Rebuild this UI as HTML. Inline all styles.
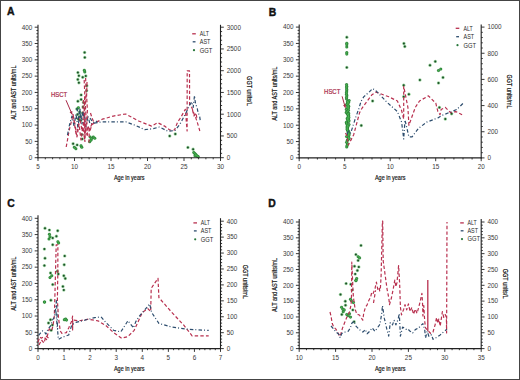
<!DOCTYPE html>
<html><head><meta charset="utf-8"><style>
html,body{margin:0;padding:0;background:#fff;}
svg{display:block;}
text{font-family:"Liberation Sans", sans-serif;}
.tk{font-size:6.35px;fill:#3a3a3a;}
.ttl{font-size:7.3px;fill:#111;font-weight:normal;stroke:#111;stroke-width:0.18px;}
.let{font-size:10.4px;font-weight:bold;fill:#111;stroke:#111;stroke-width:0.4px;}
.leg{font-size:6.6px;fill:#2a2a2a;}
.hs{font-size:6.4px;fill:#a82a48;stroke:#a82a48;stroke-width:0.2px;}
</style></head><body>
<svg width="520" height="380" viewBox="0 0 520 380">
<rect x="0" y="0" width="520" height="380" fill="#fff"/>
<g fill="#46b04e" fill-opacity="0.55"><circle cx="84.6" cy="52.4" r="1.7"/><circle cx="84.8" cy="57.4" r="1.7"/><circle cx="84.3" cy="70.3" r="1.7"/><circle cx="84.8" cy="72" r="1.7"/><circle cx="77.9" cy="72.6" r="1.7"/><circle cx="78.9" cy="75.8" r="1.7"/><circle cx="82.7" cy="77.3" r="1.7"/><circle cx="85.8" cy="76" r="1.7"/><circle cx="77.8" cy="79.4" r="1.7"/><circle cx="78.9" cy="82.7" r="1.7"/><circle cx="86.8" cy="85.7" r="1.7"/><circle cx="86.6" cy="90.7" r="1.7"/><circle cx="81.1" cy="94.9" r="1.7"/><circle cx="81.1" cy="99.4" r="1.7"/><circle cx="77.9" cy="101.2" r="1.7"/><circle cx="83.5" cy="102.4" r="1.7"/><circle cx="78.4" cy="107.7" r="1.7"/><circle cx="77" cy="109" r="1.7"/><circle cx="79.5" cy="112" r="1.7"/><circle cx="77.5" cy="114.5" r="1.7"/><circle cx="80.2" cy="116.5" r="1.7"/><circle cx="78.2" cy="119" r="1.7"/><circle cx="80.8" cy="120.5" r="1.7"/><circle cx="83" cy="107" r="1.7"/><circle cx="82.5" cy="113" r="1.7"/><circle cx="81.8" cy="134.6" r="1.7"/><circle cx="82.2" cy="139" r="1.7"/><circle cx="90.1" cy="137" r="1.7"/><circle cx="91.7" cy="138.6" r="1.7"/><circle cx="93.3" cy="137" r="1.7"/><circle cx="94.8" cy="138.2" r="1.7"/><circle cx="89.7" cy="141.7" r="1.7"/><circle cx="90.9" cy="140.2" r="1.7"/><circle cx="73.1" cy="143.7" r="1.7"/><circle cx="74.3" cy="147.3" r="1.7"/><circle cx="75.9" cy="148.8" r="1.7"/><circle cx="77.1" cy="144.9" r="1.7"/><circle cx="81" cy="145.7" r="1.7"/><circle cx="81.8" cy="147.3" r="1.7"/><circle cx="169.7" cy="136" r="1.7"/><circle cx="175.3" cy="134" r="1.7"/><circle cx="187.9" cy="147.4" r="1.7"/><circle cx="193.1" cy="149.3" r="1.7"/><circle cx="193.8" cy="152.5" r="1.7"/><circle cx="194.8" cy="153.5" r="1.7"/><circle cx="195.8" cy="154.5" r="1.7"/><circle cx="196.5" cy="155.5" r="1.7"/><circle cx="197.5" cy="156.2" r="1.7"/><circle cx="195" cy="155.8" r="1.7"/><circle cx="198.2" cy="156.8" r="1.7"/><circle cx="346.8" cy="37.3" r="1.7"/><circle cx="346.8" cy="43.2" r="1.7"/><circle cx="346.8" cy="44.8" r="1.7"/><circle cx="346.8" cy="47" r="1.7"/><circle cx="346.8" cy="52.6" r="1.7"/><circle cx="346.8" cy="54.1" r="1.7"/><circle cx="346.8" cy="67.4" r="1.7"/><circle cx="346.57" cy="84.6" r="1.7"/><circle cx="346.72" cy="86.2" r="1.7"/><circle cx="346.63" cy="87.8" r="1.7"/><circle cx="346.75" cy="89.4" r="1.7"/><circle cx="346.76" cy="91" r="1.7"/><circle cx="346.48" cy="92.6" r="1.7"/><circle cx="346.46" cy="94.2" r="1.7"/><circle cx="346.87" cy="95.8" r="1.7"/><circle cx="346.58" cy="97.4" r="1.7"/><circle cx="346.57" cy="99" r="1.7"/><circle cx="349.09" cy="100.6" r="1.7"/><circle cx="347.51" cy="101.4" r="1.7"/><circle cx="348.61" cy="102.2" r="1.7"/><circle cx="347.53" cy="103" r="1.7"/><circle cx="348.02" cy="103.8" r="1.7"/><circle cx="346.55" cy="104.6" r="1.7"/><circle cx="348" cy="105.4" r="1.7"/><circle cx="348.7" cy="106.2" r="1.7"/><circle cx="347.67" cy="107" r="1.7"/><circle cx="348.32" cy="107.8" r="1.7"/><circle cx="348.11" cy="108.6" r="1.7"/><circle cx="346.29" cy="109.4" r="1.7"/><circle cx="348.37" cy="110.2" r="1.7"/><circle cx="347.87" cy="111" r="1.7"/><circle cx="347" cy="111.8" r="1.7"/><circle cx="346.19" cy="112.6" r="1.7"/><circle cx="348.7" cy="113.4" r="1.7"/><circle cx="347.52" cy="114.2" r="1.7"/><circle cx="348.26" cy="115" r="1.7"/><circle cx="348.74" cy="115.8" r="1.7"/><circle cx="348.24" cy="116.6" r="1.7"/><circle cx="348.86" cy="117.4" r="1.7"/><circle cx="347.28" cy="118.2" r="1.7"/><circle cx="348.5" cy="119" r="1.7"/><circle cx="347.43" cy="119.8" r="1.7"/><circle cx="348.91" cy="120.6" r="1.7"/><circle cx="348.74" cy="121.4" r="1.7"/><circle cx="346.39" cy="122.2" r="1.7"/><circle cx="346.51" cy="123" r="1.7"/><circle cx="346.75" cy="123.8" r="1.7"/><circle cx="349" cy="124.6" r="1.7"/><circle cx="347.41" cy="125.4" r="1.7"/><circle cx="347.98" cy="126.2" r="1.7"/><circle cx="347" cy="127" r="1.7"/><circle cx="347.62" cy="127.8" r="1.7"/><circle cx="347.26" cy="128.6" r="1.7"/><circle cx="347.15" cy="129.4" r="1.7"/><circle cx="347.86" cy="130.2" r="1.7"/><circle cx="347.85" cy="131" r="1.7"/><circle cx="348.81" cy="131.8" r="1.7"/><circle cx="348.15" cy="132.6" r="1.7"/><circle cx="348.89" cy="133.4" r="1.7"/><circle cx="348.67" cy="134.2" r="1.7"/><circle cx="349.07" cy="135" r="1.7"/><circle cx="348.11" cy="135.8" r="1.7"/><circle cx="346.59" cy="136.6" r="1.7"/><circle cx="348.68" cy="137.4" r="1.7"/><circle cx="348.99" cy="138.2" r="1.7"/><circle cx="348.81" cy="139" r="1.7"/><circle cx="347.81" cy="139.8" r="1.7"/><circle cx="347.26" cy="140.6" r="1.7"/><circle cx="346.65" cy="142.2" r="1.7"/><circle cx="347.4" cy="143.8" r="1.7"/><circle cx="347.09" cy="145.4" r="1.7"/><circle cx="346.74" cy="147" r="1.7"/><circle cx="361.3" cy="125.5" r="1.7"/><circle cx="372.6" cy="101" r="1.7"/><circle cx="403.9" cy="43.4" r="1.7"/><circle cx="404.8" cy="46.5" r="1.7"/><circle cx="403.7" cy="85.3" r="1.7"/><circle cx="403.7" cy="96.8" r="1.7"/><circle cx="408.9" cy="94.3" r="1.7"/><circle cx="419.9" cy="80" r="1.7"/><circle cx="430" cy="65.3" r="1.7"/><circle cx="435.3" cy="61.4" r="1.7"/><circle cx="440.8" cy="69.1" r="1.7"/><circle cx="438.5" cy="70.5" r="1.7"/><circle cx="443" cy="77.5" r="1.7"/><circle cx="438.5" cy="83" r="1.7"/><circle cx="439.4" cy="107.4" r="1.7"/><circle cx="445.3" cy="119" r="1.7"/><circle cx="451.6" cy="113.7" r="1.7"/><circle cx="45" cy="228.3" r="1.7"/><circle cx="49.4" cy="230.1" r="1.7"/><circle cx="57.7" cy="230.7" r="1.7"/><circle cx="49.4" cy="234.3" r="1.7"/><circle cx="50" cy="236.7" r="1.7"/><circle cx="49" cy="239" r="1.7"/><circle cx="52.7" cy="238" r="1.7"/><circle cx="56.4" cy="236.2" r="1.7"/><circle cx="57.9" cy="241.7" r="1.7"/><circle cx="58.6" cy="243" r="1.7"/><circle cx="52.7" cy="244.8" r="1.7"/><circle cx="44.4" cy="249.1" r="1.7"/><circle cx="45" cy="258.3" r="1.7"/><circle cx="44.4" cy="265.6" r="1.7"/><circle cx="64.7" cy="255.9" r="1.7"/><circle cx="64.2" cy="264.7" r="1.7"/><circle cx="50.5" cy="273" r="1.7"/><circle cx="51.8" cy="275.8" r="1.7"/><circle cx="50" cy="277.6" r="1.7"/><circle cx="57.3" cy="271.2" r="1.7"/><circle cx="58.3" cy="274" r="1.7"/><circle cx="63.8" cy="275.8" r="1.7"/><circle cx="65.3" cy="278.5" r="1.7"/><circle cx="52.7" cy="284.6" r="1.7"/><circle cx="62.9" cy="286.4" r="1.7"/><circle cx="63.8" cy="290.1" r="1.7"/><circle cx="44.4" cy="302.1" r="1.7"/><circle cx="50.9" cy="300.3" r="1.7"/><circle cx="44.6" cy="302" r="1.7"/><circle cx="64.3" cy="319.7" r="1.7"/><circle cx="65.6" cy="319" r="1.7"/><circle cx="66.5" cy="320.1" r="1.7"/><circle cx="50.5" cy="319.7" r="1.7"/><circle cx="48.5" cy="323" r="1.7"/><circle cx="52.4" cy="325" r="1.7"/><circle cx="51.1" cy="330.3" r="1.7"/><circle cx="361" cy="245.4" r="1.7"/><circle cx="355.9" cy="254.6" r="1.7"/><circle cx="358.1" cy="256.7" r="1.7"/><circle cx="359.6" cy="257.9" r="1.7"/><circle cx="358.1" cy="260.4" r="1.7"/><circle cx="358.8" cy="266.9" r="1.7"/><circle cx="354.5" cy="266.2" r="1.7"/><circle cx="357.4" cy="270.5" r="1.7"/><circle cx="355.2" cy="274.1" r="1.7"/><circle cx="356.7" cy="278.5" r="1.7"/><circle cx="355.9" cy="280.7" r="1.7"/><circle cx="346.1" cy="283.6" r="1.7"/><circle cx="356" cy="280.3" r="1.7"/><circle cx="350.8" cy="284.2" r="1.7"/><circle cx="352.1" cy="290.1" r="1.7"/><circle cx="340.5" cy="294.5" r="1.7"/><circle cx="350.5" cy="299.3" r="1.7"/><circle cx="351.4" cy="300.7" r="1.7"/><circle cx="353.4" cy="302.6" r="1.7"/><circle cx="345.3" cy="301.3" r="1.7"/><circle cx="345.5" cy="305.3" r="1.7"/><circle cx="341.6" cy="307.2" r="1.7"/><circle cx="342.9" cy="309.2" r="1.7"/><circle cx="344.2" cy="309.9" r="1.7"/><circle cx="343.2" cy="311.8" r="1.7"/><circle cx="341.8" cy="314.5" r="1.7"/><circle cx="346.8" cy="314.5" r="1.7"/><circle cx="348.2" cy="315.8" r="1.7"/><circle cx="349.5" cy="313.8" r="1.7"/><circle cx="350.5" cy="317.1" r="1.7"/><circle cx="352.8" cy="309.9" r="1.7"/><circle cx="354.1" cy="321.7" r="1.7"/></g>
<g fill="#1d4d28"><circle cx="84.6" cy="52.4" r="1.0"/>
<circle cx="84.8" cy="57.4" r="1.0"/>
<circle cx="77.9" cy="72.6" r="1.0"/>
<circle cx="78.9" cy="75.8" r="1.0"/>
<circle cx="82.7" cy="77.3" r="1.0"/>
<circle cx="85.8" cy="76" r="1.0"/>
<circle cx="77.8" cy="79.4" r="1.0"/>
<circle cx="78.9" cy="82.7" r="1.0"/>
<circle cx="86.8" cy="85.7" r="1.0"/>
<circle cx="86.6" cy="90.7" r="1.0"/>
<circle cx="81.1" cy="94.9" r="1.0"/>
<circle cx="81.1" cy="99.4" r="1.0"/>
<circle cx="77.9" cy="101.2" r="1.0"/>
<circle cx="83.5" cy="102.4" r="1.0"/>
<circle cx="79.5" cy="112" r="1.0"/>
<circle cx="77.5" cy="114.5" r="1.0"/>
<circle cx="80.2" cy="116.5" r="1.0"/>
<circle cx="78.2" cy="119" r="1.0"/>
<circle cx="80.8" cy="120.5" r="1.0"/>
<circle cx="83" cy="107" r="1.0"/>
<circle cx="82.5" cy="113" r="1.0"/>
<circle cx="81.8" cy="134.6" r="1.0"/>
<circle cx="82.2" cy="139" r="1.0"/>
<circle cx="73.1" cy="143.7" r="1.0"/>
<circle cx="77.1" cy="144.9" r="1.0"/>
<circle cx="169.7" cy="136" r="1.0"/>
<circle cx="175.3" cy="134" r="1.0"/>
<circle cx="187.9" cy="147.4" r="1.0"/>
<circle cx="193.1" cy="149.3" r="1.0"/>
<circle cx="346.8" cy="37.3" r="1.0"/>
<circle cx="346.8" cy="67.4" r="1.0"/>
<circle cx="361.3" cy="125.5" r="1.0"/>
<circle cx="372.6" cy="101" r="1.0"/>
<circle cx="403.9" cy="43.4" r="1.0"/>
<circle cx="404.8" cy="46.5" r="1.0"/>
<circle cx="403.7" cy="85.3" r="1.0"/>
<circle cx="403.7" cy="96.8" r="1.0"/>
<circle cx="408.9" cy="94.3" r="1.0"/>
<circle cx="419.9" cy="80" r="1.0"/>
<circle cx="430" cy="65.3" r="1.0"/>
<circle cx="435.3" cy="61.4" r="1.0"/>
<circle cx="443" cy="77.5" r="1.0"/>
<circle cx="438.5" cy="83" r="1.0"/>
<circle cx="439.4" cy="107.4" r="1.0"/>
<circle cx="445.3" cy="119" r="1.0"/>
<circle cx="451.6" cy="113.7" r="1.0"/>
<circle cx="45" cy="228.3" r="1.0"/>
<circle cx="49.4" cy="230.1" r="1.0"/>
<circle cx="57.7" cy="230.7" r="1.0"/>
<circle cx="52.7" cy="238" r="1.0"/>
<circle cx="56.4" cy="236.2" r="1.0"/>
<circle cx="52.7" cy="244.8" r="1.0"/>
<circle cx="44.4" cy="249.1" r="1.0"/>
<circle cx="45" cy="258.3" r="1.0"/>
<circle cx="44.4" cy="265.6" r="1.0"/>
<circle cx="64.7" cy="255.9" r="1.0"/>
<circle cx="64.2" cy="264.7" r="1.0"/>
<circle cx="50.5" cy="273" r="1.0"/>
<circle cx="57.3" cy="271.2" r="1.0"/>
<circle cx="58.3" cy="274" r="1.0"/>
<circle cx="63.8" cy="275.8" r="1.0"/>
<circle cx="65.3" cy="278.5" r="1.0"/>
<circle cx="52.7" cy="284.6" r="1.0"/>
<circle cx="62.9" cy="286.4" r="1.0"/>
<circle cx="63.8" cy="290.1" r="1.0"/>
<circle cx="50.9" cy="300.3" r="1.0"/>
<circle cx="50.5" cy="319.7" r="1.0"/>
<circle cx="48.5" cy="323" r="1.0"/>
<circle cx="52.4" cy="325" r="1.0"/>
<circle cx="51.1" cy="330.3" r="1.0"/>
<circle cx="361" cy="245.4" r="1.0"/>
<circle cx="355.9" cy="254.6" r="1.0"/>
<circle cx="358.1" cy="260.4" r="1.0"/>
<circle cx="358.8" cy="266.9" r="1.0"/>
<circle cx="354.5" cy="266.2" r="1.0"/>
<circle cx="357.4" cy="270.5" r="1.0"/>
<circle cx="355.2" cy="274.1" r="1.0"/>
<circle cx="346.1" cy="283.6" r="1.0"/>
<circle cx="350.8" cy="284.2" r="1.0"/>
<circle cx="352.1" cy="290.1" r="1.0"/>
<circle cx="340.5" cy="294.5" r="1.0"/>
<circle cx="345.3" cy="301.3" r="1.0"/>
<circle cx="345.5" cy="305.3" r="1.0"/>
<circle cx="341.8" cy="314.5" r="1.0"/>
<circle cx="352.8" cy="309.9" r="1.0"/>
<circle cx="354.1" cy="321.7" r="1.0"/></g>
<g fill="#236b30"><circle cx="84.3" cy="70.3" r="1.3"/>
<circle cx="84.8" cy="72" r="1.3"/>
<circle cx="78.4" cy="107.7" r="1.3"/>
<circle cx="77" cy="109" r="1.3"/>
<circle cx="90.1" cy="137" r="1.3"/>
<circle cx="91.7" cy="138.6" r="1.3"/>
<circle cx="93.3" cy="137" r="1.3"/>
<circle cx="94.8" cy="138.2" r="1.3"/>
<circle cx="89.7" cy="141.7" r="1.3"/>
<circle cx="90.9" cy="140.2" r="1.3"/>
<circle cx="74.3" cy="147.3" r="1.3"/>
<circle cx="75.9" cy="148.8" r="1.3"/>
<circle cx="81" cy="145.7" r="1.3"/>
<circle cx="81.8" cy="147.3" r="1.3"/>
<circle cx="193.8" cy="152.5" r="1.3"/>
<circle cx="194.8" cy="153.5" r="1.3"/>
<circle cx="195.8" cy="154.5" r="1.3"/>
<circle cx="196.5" cy="155.5" r="1.3"/>
<circle cx="197.5" cy="156.2" r="1.3"/>
<circle cx="195" cy="155.8" r="1.3"/>
<circle cx="198.2" cy="156.8" r="1.3"/>
<circle cx="346.8" cy="43.2" r="1.3"/>
<circle cx="346.8" cy="44.8" r="1.3"/>
<circle cx="346.8" cy="47" r="1.3"/>
<circle cx="346.8" cy="52.6" r="1.3"/>
<circle cx="346.8" cy="54.1" r="1.3"/>
<circle cx="346.57" cy="84.6" r="1.3"/>
<circle cx="346.72" cy="86.2" r="1.3"/>
<circle cx="346.63" cy="87.8" r="1.3"/>
<circle cx="346.75" cy="89.4" r="1.3"/>
<circle cx="346.76" cy="91" r="1.3"/>
<circle cx="346.48" cy="92.6" r="1.3"/>
<circle cx="346.46" cy="94.2" r="1.3"/>
<circle cx="346.87" cy="95.8" r="1.3"/>
<circle cx="346.58" cy="97.4" r="1.3"/>
<circle cx="346.57" cy="99" r="1.3"/>
<circle cx="349.09" cy="100.6" r="1.3"/>
<circle cx="347.51" cy="101.4" r="1.3"/>
<circle cx="348.61" cy="102.2" r="1.3"/>
<circle cx="347.53" cy="103" r="1.3"/>
<circle cx="348.02" cy="103.8" r="1.3"/>
<circle cx="346.55" cy="104.6" r="1.3"/>
<circle cx="348" cy="105.4" r="1.3"/>
<circle cx="348.7" cy="106.2" r="1.3"/>
<circle cx="347.67" cy="107" r="1.3"/>
<circle cx="348.32" cy="107.8" r="1.3"/>
<circle cx="348.11" cy="108.6" r="1.3"/>
<circle cx="346.29" cy="109.4" r="1.3"/>
<circle cx="348.37" cy="110.2" r="1.3"/>
<circle cx="347.87" cy="111" r="1.3"/>
<circle cx="347" cy="111.8" r="1.3"/>
<circle cx="346.19" cy="112.6" r="1.3"/>
<circle cx="348.7" cy="113.4" r="1.3"/>
<circle cx="347.52" cy="114.2" r="1.3"/>
<circle cx="348.26" cy="115" r="1.3"/>
<circle cx="348.74" cy="115.8" r="1.3"/>
<circle cx="348.24" cy="116.6" r="1.3"/>
<circle cx="348.86" cy="117.4" r="1.3"/>
<circle cx="347.28" cy="118.2" r="1.3"/>
<circle cx="348.5" cy="119" r="1.3"/>
<circle cx="347.43" cy="119.8" r="1.3"/>
<circle cx="348.91" cy="120.6" r="1.3"/>
<circle cx="348.74" cy="121.4" r="1.3"/>
<circle cx="346.39" cy="122.2" r="1.3"/>
<circle cx="346.51" cy="123" r="1.3"/>
<circle cx="346.75" cy="123.8" r="1.3"/>
<circle cx="349" cy="124.6" r="1.3"/>
<circle cx="347.41" cy="125.4" r="1.3"/>
<circle cx="347.98" cy="126.2" r="1.3"/>
<circle cx="347" cy="127" r="1.3"/>
<circle cx="347.62" cy="127.8" r="1.3"/>
<circle cx="347.26" cy="128.6" r="1.3"/>
<circle cx="347.15" cy="129.4" r="1.3"/>
<circle cx="347.86" cy="130.2" r="1.3"/>
<circle cx="347.85" cy="131" r="1.3"/>
<circle cx="348.81" cy="131.8" r="1.3"/>
<circle cx="348.15" cy="132.6" r="1.3"/>
<circle cx="348.89" cy="133.4" r="1.3"/>
<circle cx="348.67" cy="134.2" r="1.3"/>
<circle cx="349.07" cy="135" r="1.3"/>
<circle cx="348.11" cy="135.8" r="1.3"/>
<circle cx="346.59" cy="136.6" r="1.3"/>
<circle cx="348.68" cy="137.4" r="1.3"/>
<circle cx="348.99" cy="138.2" r="1.3"/>
<circle cx="348.81" cy="139" r="1.3"/>
<circle cx="347.81" cy="139.8" r="1.3"/>
<circle cx="347.26" cy="140.6" r="1.3"/>
<circle cx="346.65" cy="142.2" r="1.3"/>
<circle cx="347.4" cy="143.8" r="1.3"/>
<circle cx="347.09" cy="145.4" r="1.3"/>
<circle cx="346.74" cy="147" r="1.3"/>
<circle cx="440.8" cy="69.1" r="1.3"/>
<circle cx="438.5" cy="70.5" r="1.3"/>
<circle cx="49.4" cy="234.3" r="1.3"/>
<circle cx="50" cy="236.7" r="1.3"/>
<circle cx="49" cy="239" r="1.3"/>
<circle cx="57.9" cy="241.7" r="1.3"/>
<circle cx="58.6" cy="243" r="1.3"/>
<circle cx="51.8" cy="275.8" r="1.3"/>
<circle cx="50" cy="277.6" r="1.3"/>
<circle cx="44.4" cy="302.1" r="1.3"/>
<circle cx="44.6" cy="302" r="1.3"/>
<circle cx="64.3" cy="319.7" r="1.3"/>
<circle cx="65.6" cy="319" r="1.3"/>
<circle cx="66.5" cy="320.1" r="1.3"/>
<circle cx="358.1" cy="256.7" r="1.3"/>
<circle cx="359.6" cy="257.9" r="1.3"/>
<circle cx="356.7" cy="278.5" r="1.3"/>
<circle cx="355.9" cy="280.7" r="1.3"/>
<circle cx="356" cy="280.3" r="1.3"/>
<circle cx="350.5" cy="299.3" r="1.3"/>
<circle cx="351.4" cy="300.7" r="1.3"/>
<circle cx="353.4" cy="302.6" r="1.3"/>
<circle cx="341.6" cy="307.2" r="1.3"/>
<circle cx="342.9" cy="309.2" r="1.3"/>
<circle cx="344.2" cy="309.9" r="1.3"/>
<circle cx="343.2" cy="311.8" r="1.3"/>
<circle cx="346.8" cy="314.5" r="1.3"/>
<circle cx="348.2" cy="315.8" r="1.3"/>
<circle cx="349.5" cy="313.8" r="1.3"/>
<circle cx="350.5" cy="317.1" r="1.3"/></g>
<g fill="#45b34d"><circle cx="84.3" cy="70.3" r="0.85"/>
<circle cx="84.8" cy="72" r="0.85"/>
<circle cx="78.4" cy="107.7" r="0.85"/>
<circle cx="77" cy="109" r="0.85"/>
<circle cx="90.1" cy="137" r="0.85"/>
<circle cx="91.7" cy="138.6" r="0.85"/>
<circle cx="93.3" cy="137" r="0.85"/>
<circle cx="94.8" cy="138.2" r="0.85"/>
<circle cx="89.7" cy="141.7" r="0.85"/>
<circle cx="90.9" cy="140.2" r="0.85"/>
<circle cx="74.3" cy="147.3" r="0.85"/>
<circle cx="75.9" cy="148.8" r="0.85"/>
<circle cx="81" cy="145.7" r="0.85"/>
<circle cx="81.8" cy="147.3" r="0.85"/>
<circle cx="193.8" cy="152.5" r="0.85"/>
<circle cx="194.8" cy="153.5" r="0.85"/>
<circle cx="195.8" cy="154.5" r="0.85"/>
<circle cx="196.5" cy="155.5" r="0.85"/>
<circle cx="197.5" cy="156.2" r="0.85"/>
<circle cx="195" cy="155.8" r="0.85"/>
<circle cx="198.2" cy="156.8" r="0.85"/>
<circle cx="346.8" cy="43.2" r="0.85"/>
<circle cx="346.8" cy="44.8" r="0.85"/>
<circle cx="346.8" cy="47" r="0.85"/>
<circle cx="346.8" cy="52.6" r="0.85"/>
<circle cx="346.8" cy="54.1" r="0.85"/>
<circle cx="346.57" cy="84.6" r="0.85"/>
<circle cx="346.72" cy="86.2" r="0.85"/>
<circle cx="346.63" cy="87.8" r="0.85"/>
<circle cx="346.75" cy="89.4" r="0.85"/>
<circle cx="346.76" cy="91" r="0.85"/>
<circle cx="346.48" cy="92.6" r="0.85"/>
<circle cx="346.46" cy="94.2" r="0.85"/>
<circle cx="346.87" cy="95.8" r="0.85"/>
<circle cx="346.58" cy="97.4" r="0.85"/>
<circle cx="346.57" cy="99" r="0.85"/>
<circle cx="349.09" cy="100.6" r="0.85"/>
<circle cx="347.51" cy="101.4" r="0.85"/>
<circle cx="348.61" cy="102.2" r="0.85"/>
<circle cx="347.53" cy="103" r="0.85"/>
<circle cx="348.02" cy="103.8" r="0.85"/>
<circle cx="346.55" cy="104.6" r="0.85"/>
<circle cx="348" cy="105.4" r="0.85"/>
<circle cx="348.7" cy="106.2" r="0.85"/>
<circle cx="347.67" cy="107" r="0.85"/>
<circle cx="348.32" cy="107.8" r="0.85"/>
<circle cx="348.11" cy="108.6" r="0.85"/>
<circle cx="346.29" cy="109.4" r="0.85"/>
<circle cx="348.37" cy="110.2" r="0.85"/>
<circle cx="347.87" cy="111" r="0.85"/>
<circle cx="347" cy="111.8" r="0.85"/>
<circle cx="346.19" cy="112.6" r="0.85"/>
<circle cx="348.7" cy="113.4" r="0.85"/>
<circle cx="347.52" cy="114.2" r="0.85"/>
<circle cx="348.26" cy="115" r="0.85"/>
<circle cx="348.74" cy="115.8" r="0.85"/>
<circle cx="348.24" cy="116.6" r="0.85"/>
<circle cx="348.86" cy="117.4" r="0.85"/>
<circle cx="347.28" cy="118.2" r="0.85"/>
<circle cx="348.5" cy="119" r="0.85"/>
<circle cx="347.43" cy="119.8" r="0.85"/>
<circle cx="348.91" cy="120.6" r="0.85"/>
<circle cx="348.74" cy="121.4" r="0.85"/>
<circle cx="346.39" cy="122.2" r="0.85"/>
<circle cx="346.51" cy="123" r="0.85"/>
<circle cx="346.75" cy="123.8" r="0.85"/>
<circle cx="349" cy="124.6" r="0.85"/>
<circle cx="347.41" cy="125.4" r="0.85"/>
<circle cx="347.98" cy="126.2" r="0.85"/>
<circle cx="347" cy="127" r="0.85"/>
<circle cx="347.62" cy="127.8" r="0.85"/>
<circle cx="347.26" cy="128.6" r="0.85"/>
<circle cx="347.15" cy="129.4" r="0.85"/>
<circle cx="347.86" cy="130.2" r="0.85"/>
<circle cx="347.85" cy="131" r="0.85"/>
<circle cx="348.81" cy="131.8" r="0.85"/>
<circle cx="348.15" cy="132.6" r="0.85"/>
<circle cx="348.89" cy="133.4" r="0.85"/>
<circle cx="348.67" cy="134.2" r="0.85"/>
<circle cx="349.07" cy="135" r="0.85"/>
<circle cx="348.11" cy="135.8" r="0.85"/>
<circle cx="346.59" cy="136.6" r="0.85"/>
<circle cx="348.68" cy="137.4" r="0.85"/>
<circle cx="348.99" cy="138.2" r="0.85"/>
<circle cx="348.81" cy="139" r="0.85"/>
<circle cx="347.81" cy="139.8" r="0.85"/>
<circle cx="347.26" cy="140.6" r="0.85"/>
<circle cx="346.65" cy="142.2" r="0.85"/>
<circle cx="347.4" cy="143.8" r="0.85"/>
<circle cx="347.09" cy="145.4" r="0.85"/>
<circle cx="346.74" cy="147" r="0.85"/>
<circle cx="440.8" cy="69.1" r="0.85"/>
<circle cx="438.5" cy="70.5" r="0.85"/>
<circle cx="49.4" cy="234.3" r="0.85"/>
<circle cx="50" cy="236.7" r="0.85"/>
<circle cx="49" cy="239" r="0.85"/>
<circle cx="57.9" cy="241.7" r="0.85"/>
<circle cx="58.6" cy="243" r="0.85"/>
<circle cx="51.8" cy="275.8" r="0.85"/>
<circle cx="50" cy="277.6" r="0.85"/>
<circle cx="44.4" cy="302.1" r="0.85"/>
<circle cx="44.6" cy="302" r="0.85"/>
<circle cx="64.3" cy="319.7" r="0.85"/>
<circle cx="65.6" cy="319" r="0.85"/>
<circle cx="66.5" cy="320.1" r="0.85"/>
<circle cx="358.1" cy="256.7" r="0.85"/>
<circle cx="359.6" cy="257.9" r="0.85"/>
<circle cx="356.7" cy="278.5" r="0.85"/>
<circle cx="355.9" cy="280.7" r="0.85"/>
<circle cx="356" cy="280.3" r="0.85"/>
<circle cx="350.5" cy="299.3" r="0.85"/>
<circle cx="351.4" cy="300.7" r="0.85"/>
<circle cx="353.4" cy="302.6" r="0.85"/>
<circle cx="341.6" cy="307.2" r="0.85"/>
<circle cx="342.9" cy="309.2" r="0.85"/>
<circle cx="344.2" cy="309.9" r="0.85"/>
<circle cx="343.2" cy="311.8" r="0.85"/>
<circle cx="346.8" cy="314.5" r="0.85"/>
<circle cx="348.2" cy="315.8" r="0.85"/>
<circle cx="349.5" cy="313.8" r="0.85"/>
<circle cx="350.5" cy="317.1" r="0.85"/></g>
<line x1="38" y1="24.8" x2="38" y2="158.2" stroke="#222" stroke-width="1.1"/>
<line x1="220.5" y1="24.8" x2="220.5" y2="158.2" stroke="#222" stroke-width="1.1"/>
<line x1="37.5" y1="157.7" x2="221" y2="157.7" stroke="#222" stroke-width="1.1"/>
<line x1="34.7" y1="157.7" x2="38" y2="157.7" stroke="#222" stroke-width="0.9"/>
<text x="32.4" y="160" text-anchor="end" class="tk">0</text>
<line x1="36.4" y1="154.44" x2="38" y2="154.44" stroke="#222" stroke-width="0.9"/>
<line x1="36.4" y1="151.17" x2="38" y2="151.17" stroke="#222" stroke-width="0.9"/>
<line x1="36.4" y1="147.91" x2="38" y2="147.91" stroke="#222" stroke-width="0.9"/>
<line x1="36.4" y1="144.65" x2="38" y2="144.65" stroke="#222" stroke-width="0.9"/>
<line x1="34.7" y1="141.39" x2="38" y2="141.39" stroke="#222" stroke-width="0.9"/>
<text x="32.4" y="143.69" text-anchor="end" class="tk">50</text>
<line x1="36.4" y1="138.12" x2="38" y2="138.12" stroke="#222" stroke-width="0.9"/>
<line x1="36.4" y1="134.86" x2="38" y2="134.86" stroke="#222" stroke-width="0.9"/>
<line x1="36.4" y1="131.6" x2="38" y2="131.6" stroke="#222" stroke-width="0.9"/>
<line x1="36.4" y1="128.34" x2="38" y2="128.34" stroke="#222" stroke-width="0.9"/>
<line x1="34.7" y1="125.07" x2="38" y2="125.07" stroke="#222" stroke-width="0.9"/>
<text x="32.4" y="127.37" text-anchor="end" class="tk">100</text>
<line x1="36.4" y1="121.81" x2="38" y2="121.81" stroke="#222" stroke-width="0.9"/>
<line x1="36.4" y1="118.55" x2="38" y2="118.55" stroke="#222" stroke-width="0.9"/>
<line x1="36.4" y1="115.29" x2="38" y2="115.29" stroke="#222" stroke-width="0.9"/>
<line x1="36.4" y1="112.02" x2="38" y2="112.02" stroke="#222" stroke-width="0.9"/>
<line x1="34.7" y1="108.76" x2="38" y2="108.76" stroke="#222" stroke-width="0.9"/>
<text x="32.4" y="111.06" text-anchor="end" class="tk">150</text>
<line x1="36.4" y1="105.5" x2="38" y2="105.5" stroke="#222" stroke-width="0.9"/>
<line x1="36.4" y1="102.24" x2="38" y2="102.24" stroke="#222" stroke-width="0.9"/>
<line x1="36.4" y1="98.97" x2="38" y2="98.97" stroke="#222" stroke-width="0.9"/>
<line x1="36.4" y1="95.71" x2="38" y2="95.71" stroke="#222" stroke-width="0.9"/>
<line x1="34.7" y1="92.45" x2="38" y2="92.45" stroke="#222" stroke-width="0.9"/>
<text x="32.4" y="94.75" text-anchor="end" class="tk">200</text>
<line x1="36.4" y1="89.19" x2="38" y2="89.19" stroke="#222" stroke-width="0.9"/>
<line x1="36.4" y1="85.92" x2="38" y2="85.92" stroke="#222" stroke-width="0.9"/>
<line x1="36.4" y1="82.66" x2="38" y2="82.66" stroke="#222" stroke-width="0.9"/>
<line x1="36.4" y1="79.4" x2="38" y2="79.4" stroke="#222" stroke-width="0.9"/>
<line x1="34.7" y1="76.14" x2="38" y2="76.14" stroke="#222" stroke-width="0.9"/>
<text x="32.4" y="78.44" text-anchor="end" class="tk">250</text>
<line x1="36.4" y1="72.87" x2="38" y2="72.87" stroke="#222" stroke-width="0.9"/>
<line x1="36.4" y1="69.61" x2="38" y2="69.61" stroke="#222" stroke-width="0.9"/>
<line x1="36.4" y1="66.35" x2="38" y2="66.35" stroke="#222" stroke-width="0.9"/>
<line x1="36.4" y1="63.09" x2="38" y2="63.09" stroke="#222" stroke-width="0.9"/>
<line x1="34.7" y1="59.82" x2="38" y2="59.82" stroke="#222" stroke-width="0.9"/>
<text x="32.4" y="62.12" text-anchor="end" class="tk">300</text>
<line x1="36.4" y1="56.56" x2="38" y2="56.56" stroke="#222" stroke-width="0.9"/>
<line x1="36.4" y1="53.3" x2="38" y2="53.3" stroke="#222" stroke-width="0.9"/>
<line x1="36.4" y1="50.04" x2="38" y2="50.04" stroke="#222" stroke-width="0.9"/>
<line x1="36.4" y1="46.77" x2="38" y2="46.77" stroke="#222" stroke-width="0.9"/>
<line x1="34.7" y1="43.51" x2="38" y2="43.51" stroke="#222" stroke-width="0.9"/>
<text x="32.4" y="45.81" text-anchor="end" class="tk">350</text>
<line x1="36.4" y1="40.25" x2="38" y2="40.25" stroke="#222" stroke-width="0.9"/>
<line x1="36.4" y1="36.99" x2="38" y2="36.99" stroke="#222" stroke-width="0.9"/>
<line x1="36.4" y1="33.72" x2="38" y2="33.72" stroke="#222" stroke-width="0.9"/>
<line x1="36.4" y1="30.46" x2="38" y2="30.46" stroke="#222" stroke-width="0.9"/>
<line x1="34.7" y1="27.2" x2="38" y2="27.2" stroke="#222" stroke-width="0.9"/>
<text x="32.4" y="29.5" text-anchor="end" class="tk">400</text>
<line x1="220.5" y1="157.7" x2="223.8" y2="157.7" stroke="#222" stroke-width="0.9"/>
<text x="226.8" y="160" class="tk">0</text>
<line x1="220.5" y1="153.35" x2="222.1" y2="153.35" stroke="#222" stroke-width="0.9"/>
<line x1="220.5" y1="149" x2="222.1" y2="149" stroke="#222" stroke-width="0.9"/>
<line x1="220.5" y1="144.65" x2="222.1" y2="144.65" stroke="#222" stroke-width="0.9"/>
<line x1="220.5" y1="140.3" x2="222.1" y2="140.3" stroke="#222" stroke-width="0.9"/>
<line x1="220.5" y1="135.95" x2="223.8" y2="135.95" stroke="#222" stroke-width="0.9"/>
<text x="226.8" y="138.25" class="tk">500</text>
<line x1="220.5" y1="131.6" x2="222.1" y2="131.6" stroke="#222" stroke-width="0.9"/>
<line x1="220.5" y1="127.25" x2="222.1" y2="127.25" stroke="#222" stroke-width="0.9"/>
<line x1="220.5" y1="122.9" x2="222.1" y2="122.9" stroke="#222" stroke-width="0.9"/>
<line x1="220.5" y1="118.55" x2="222.1" y2="118.55" stroke="#222" stroke-width="0.9"/>
<line x1="220.5" y1="114.2" x2="223.8" y2="114.2" stroke="#222" stroke-width="0.9"/>
<text x="226.8" y="116.5" class="tk">1000</text>
<line x1="220.5" y1="109.85" x2="222.1" y2="109.85" stroke="#222" stroke-width="0.9"/>
<line x1="220.5" y1="105.5" x2="222.1" y2="105.5" stroke="#222" stroke-width="0.9"/>
<line x1="220.5" y1="101.15" x2="222.1" y2="101.15" stroke="#222" stroke-width="0.9"/>
<line x1="220.5" y1="96.8" x2="222.1" y2="96.8" stroke="#222" stroke-width="0.9"/>
<line x1="220.5" y1="92.45" x2="223.8" y2="92.45" stroke="#222" stroke-width="0.9"/>
<text x="226.8" y="94.75" class="tk">1500</text>
<line x1="220.5" y1="88.1" x2="222.1" y2="88.1" stroke="#222" stroke-width="0.9"/>
<line x1="220.5" y1="83.75" x2="222.1" y2="83.75" stroke="#222" stroke-width="0.9"/>
<line x1="220.5" y1="79.4" x2="222.1" y2="79.4" stroke="#222" stroke-width="0.9"/>
<line x1="220.5" y1="75.05" x2="222.1" y2="75.05" stroke="#222" stroke-width="0.9"/>
<line x1="220.5" y1="70.7" x2="223.8" y2="70.7" stroke="#222" stroke-width="0.9"/>
<text x="226.8" y="73" class="tk">2000</text>
<line x1="220.5" y1="66.35" x2="222.1" y2="66.35" stroke="#222" stroke-width="0.9"/>
<line x1="220.5" y1="62" x2="222.1" y2="62" stroke="#222" stroke-width="0.9"/>
<line x1="220.5" y1="57.65" x2="222.1" y2="57.65" stroke="#222" stroke-width="0.9"/>
<line x1="220.5" y1="53.3" x2="222.1" y2="53.3" stroke="#222" stroke-width="0.9"/>
<line x1="220.5" y1="48.95" x2="223.8" y2="48.95" stroke="#222" stroke-width="0.9"/>
<text x="226.8" y="51.25" class="tk">2500</text>
<line x1="220.5" y1="44.6" x2="222.1" y2="44.6" stroke="#222" stroke-width="0.9"/>
<line x1="220.5" y1="40.25" x2="222.1" y2="40.25" stroke="#222" stroke-width="0.9"/>
<line x1="220.5" y1="35.9" x2="222.1" y2="35.9" stroke="#222" stroke-width="0.9"/>
<line x1="220.5" y1="31.55" x2="222.1" y2="31.55" stroke="#222" stroke-width="0.9"/>
<line x1="220.5" y1="27.2" x2="223.8" y2="27.2" stroke="#222" stroke-width="0.9"/>
<text x="226.8" y="29.5" class="tk">3000</text>
<line x1="38" y1="157.7" x2="38" y2="161" stroke="#222" stroke-width="0.9"/>
<text x="38" y="168.9" text-anchor="middle" class="tk">5</text>
<line x1="45.3" y1="157.7" x2="45.3" y2="159.3" stroke="#222" stroke-width="0.9"/>
<line x1="52.6" y1="157.7" x2="52.6" y2="159.3" stroke="#222" stroke-width="0.9"/>
<line x1="59.9" y1="157.7" x2="59.9" y2="159.3" stroke="#222" stroke-width="0.9"/>
<line x1="67.2" y1="157.7" x2="67.2" y2="159.3" stroke="#222" stroke-width="0.9"/>
<line x1="74.5" y1="157.7" x2="74.5" y2="161" stroke="#222" stroke-width="0.9"/>
<text x="74.5" y="168.9" text-anchor="middle" class="tk">10</text>
<line x1="81.8" y1="157.7" x2="81.8" y2="159.3" stroke="#222" stroke-width="0.9"/>
<line x1="89.1" y1="157.7" x2="89.1" y2="159.3" stroke="#222" stroke-width="0.9"/>
<line x1="96.4" y1="157.7" x2="96.4" y2="159.3" stroke="#222" stroke-width="0.9"/>
<line x1="103.7" y1="157.7" x2="103.7" y2="159.3" stroke="#222" stroke-width="0.9"/>
<line x1="111" y1="157.7" x2="111" y2="161" stroke="#222" stroke-width="0.9"/>
<text x="111" y="168.9" text-anchor="middle" class="tk">15</text>
<line x1="118.3" y1="157.7" x2="118.3" y2="159.3" stroke="#222" stroke-width="0.9"/>
<line x1="125.6" y1="157.7" x2="125.6" y2="159.3" stroke="#222" stroke-width="0.9"/>
<line x1="132.9" y1="157.7" x2="132.9" y2="159.3" stroke="#222" stroke-width="0.9"/>
<line x1="140.2" y1="157.7" x2="140.2" y2="159.3" stroke="#222" stroke-width="0.9"/>
<line x1="147.5" y1="157.7" x2="147.5" y2="161" stroke="#222" stroke-width="0.9"/>
<text x="147.5" y="168.9" text-anchor="middle" class="tk">20</text>
<line x1="154.8" y1="157.7" x2="154.8" y2="159.3" stroke="#222" stroke-width="0.9"/>
<line x1="162.1" y1="157.7" x2="162.1" y2="159.3" stroke="#222" stroke-width="0.9"/>
<line x1="169.4" y1="157.7" x2="169.4" y2="159.3" stroke="#222" stroke-width="0.9"/>
<line x1="176.7" y1="157.7" x2="176.7" y2="159.3" stroke="#222" stroke-width="0.9"/>
<line x1="184" y1="157.7" x2="184" y2="161" stroke="#222" stroke-width="0.9"/>
<text x="184" y="168.9" text-anchor="middle" class="tk">25</text>
<line x1="191.3" y1="157.7" x2="191.3" y2="159.3" stroke="#222" stroke-width="0.9"/>
<line x1="198.6" y1="157.7" x2="198.6" y2="159.3" stroke="#222" stroke-width="0.9"/>
<line x1="205.9" y1="157.7" x2="205.9" y2="159.3" stroke="#222" stroke-width="0.9"/>
<line x1="213.2" y1="157.7" x2="213.2" y2="159.3" stroke="#222" stroke-width="0.9"/>
<line x1="220.5" y1="157.7" x2="220.5" y2="161" stroke="#222" stroke-width="0.9"/>
<text x="220.5" y="168.9" text-anchor="middle" class="tk">30</text>
<text x="129.25" y="180.2" text-anchor="middle" class="ttl" textLength="30.6" lengthAdjust="spacingAndGlyphs">Age in years</text>
<text transform="translate(15.6,92.65) rotate(-90)" text-anchor="middle" class="ttl" textLength="54.2" lengthAdjust="spacingAndGlyphs">ALT and AST units/mL</text>
<text transform="translate(246.6,90.9) rotate(90)" text-anchor="middle" class="ttl" textLength="29.6" lengthAdjust="spacingAndGlyphs">GGT units/L</text>
<text x="6.9" y="15.4" class="let">A</text>
<line x1="192.2" y1="33.8" x2="195.8" y2="33.8" stroke="#b8304f" stroke-width="1.3"/>
<line x1="192.7" y1="41.8" x2="195.5" y2="41.8" stroke="#2d4d6e" stroke-width="1.3"/>
<circle cx="194" cy="50.2" r="1.1" fill="#26773a"/>
<text x="199.8" y="36.1" class="leg" textLength="9.2" lengthAdjust="spacingAndGlyphs">ALT</text>
<text x="199.8" y="44.1" class="leg" textLength="10.6" lengthAdjust="spacingAndGlyphs">AST</text>
<text x="199.8" y="52.5" class="leg" textLength="12.6" lengthAdjust="spacingAndGlyphs">GGT</text>
<polyline points="66.2,147 67.5,140 68.5,134 70,127 71.5,121 73,115 75,124 76.5,135 78,126 80,118 82,131 84,121 86,135 88,126 90,131 91.9,124.4 102.3,119.2 114.4,115.8 125.7,114 138.6,121 151.6,126.1 157.7,122.7 164.6,126.1 169.7,130 174.5,130 177.6,122.1 180.8,117.4 185.3,109.3 187.1,131 187.2,70.8 189.5,70.8 189.6,104.7 191.2,106 193.2,111.3 194.5,115.3 195.8,117.9 197.1,121.8 199.1,128.4 199.8,131" fill="none" stroke="#b8304f" stroke-width="1.2" stroke-dasharray="3.4,2.2" stroke-linejoin="round"/>
<polyline points="192.5,110 194,116 196,113 197,119" fill="none" stroke="#b8304f" stroke-width="1.2" stroke-dasharray="3.4,2.2" stroke-linejoin="round"/>
<polyline points="67.5,135 68.8,128 70.3,121.6 72,116 74,126 76,114 78,128 80,110 82,124 84,112 86,127 88,116 90,124 91.9,123.5 102.3,121.8 111.8,121.8 125.7,121.8 135.2,125.3 144.7,129.6 153.3,128.7 159.4,127 168,131.3 175,130.5 180,124 186,113 189,106 191.8,102 193.2,107.4 194.5,95.5 195.1,100.8 195.8,104.7 197.1,107.4 197.8,111.3 199.7,116.6 200.5,122" fill="none" stroke="#2d4d6e" stroke-width="1.2" stroke-dasharray="3.5,2,1,2.2" stroke-linejoin="round"/>
<polyline points="84.2,80 84.8,95 84.2,110 84.8,125 84.4,140" fill="none" stroke="#b8304f" stroke-width="1.2" stroke-dasharray="3.4,2.2" stroke-linejoin="round"/>
<polyline points="85.6,78 86.2,92 85.4,106 86.2,120 85.6,134" fill="none" stroke="#b8304f" stroke-width="1.2" stroke-dasharray="3.4,2.2" stroke-linejoin="round"/>
<polyline points="87,82 86.6,96 87.4,110 86.8,124 87.6,138" fill="none" stroke="#b8304f" stroke-width="1.2" stroke-dasharray="3.4,2.2" stroke-linejoin="round"/>
<polyline points="83.4,100 83,114 83.6,128" fill="none" stroke="#b8304f" stroke-width="1.2" stroke-dasharray="3.4,2.2" stroke-linejoin="round"/>
<polyline points="89,128 89.2,136 88.9,143" fill="none" stroke="#b8304f" stroke-width="1.2" stroke-dasharray="3.4,2.2" stroke-linejoin="round"/>
<polyline points="73,114 75.5,131 77,137 79,124 81,140 83,127 85,142" fill="none" stroke="#b8304f" stroke-width="1.2" stroke-dasharray="3.4,2.2" stroke-linejoin="round"/>
<polyline points="90.5,113 92,118 93.3,121 91,126 89.5,131" fill="none" stroke="#b8304f" stroke-width="1.2" stroke-dasharray="3.4,2.2" stroke-linejoin="round"/>
<polyline points="77,108 78.5,118 80,109 81.5,120 83,112" fill="none" stroke="#2d4d6e" stroke-width="1.2" stroke-dasharray="3.5,2,1,2.2" stroke-linejoin="round"/>
<polyline points="90,118 92.5,122 94.8,122.9 97,121" fill="none" stroke="#2d4d6e" stroke-width="1.2" stroke-dasharray="3.5,2,1,2.2" stroke-linejoin="round"/>
<polyline points="85,96 84.6,112 85.4,128 85,141" fill="none" stroke="#b8304f" stroke-width="1.2" stroke-dasharray="3.4,2.2" stroke-linejoin="round"/>
<text x="51" y="97.4" class="hs" textLength="16.2" lengthAdjust="spacingAndGlyphs">HSCT</text>
<line x1="66" y1="100.2" x2="72.2" y2="114.5" stroke="#a82a48" stroke-width="1"/>
<polygon points="72.2,114.5 69.55,112.16 72.3,110.97" fill="#a82a48"/>
<line x1="299.2" y1="24.5" x2="299.2" y2="158.4" stroke="#222" stroke-width="1.1"/>
<line x1="481.2" y1="24.5" x2="481.2" y2="158.4" stroke="#222" stroke-width="1.1"/>
<line x1="298.7" y1="157.9" x2="481.7" y2="157.9" stroke="#222" stroke-width="1.1"/>
<line x1="295.9" y1="157.9" x2="299.2" y2="157.9" stroke="#222" stroke-width="0.9"/>
<text x="293.6" y="160.2" text-anchor="end" class="tk">0</text>
<line x1="297.6" y1="154.63" x2="299.2" y2="154.63" stroke="#222" stroke-width="0.9"/>
<line x1="297.6" y1="151.36" x2="299.2" y2="151.36" stroke="#222" stroke-width="0.9"/>
<line x1="297.6" y1="148.09" x2="299.2" y2="148.09" stroke="#222" stroke-width="0.9"/>
<line x1="297.6" y1="144.82" x2="299.2" y2="144.82" stroke="#222" stroke-width="0.9"/>
<line x1="295.9" y1="141.55" x2="299.2" y2="141.55" stroke="#222" stroke-width="0.9"/>
<text x="293.6" y="143.85" text-anchor="end" class="tk">50</text>
<line x1="297.6" y1="138.28" x2="299.2" y2="138.28" stroke="#222" stroke-width="0.9"/>
<line x1="297.6" y1="135.01" x2="299.2" y2="135.01" stroke="#222" stroke-width="0.9"/>
<line x1="297.6" y1="131.74" x2="299.2" y2="131.74" stroke="#222" stroke-width="0.9"/>
<line x1="297.6" y1="128.47" x2="299.2" y2="128.47" stroke="#222" stroke-width="0.9"/>
<line x1="295.9" y1="125.2" x2="299.2" y2="125.2" stroke="#222" stroke-width="0.9"/>
<text x="293.6" y="127.5" text-anchor="end" class="tk">100</text>
<line x1="297.6" y1="121.93" x2="299.2" y2="121.93" stroke="#222" stroke-width="0.9"/>
<line x1="297.6" y1="118.66" x2="299.2" y2="118.66" stroke="#222" stroke-width="0.9"/>
<line x1="297.6" y1="115.39" x2="299.2" y2="115.39" stroke="#222" stroke-width="0.9"/>
<line x1="297.6" y1="112.12" x2="299.2" y2="112.12" stroke="#222" stroke-width="0.9"/>
<line x1="295.9" y1="108.85" x2="299.2" y2="108.85" stroke="#222" stroke-width="0.9"/>
<text x="293.6" y="111.15" text-anchor="end" class="tk">150</text>
<line x1="297.6" y1="105.58" x2="299.2" y2="105.58" stroke="#222" stroke-width="0.9"/>
<line x1="297.6" y1="102.31" x2="299.2" y2="102.31" stroke="#222" stroke-width="0.9"/>
<line x1="297.6" y1="99.04" x2="299.2" y2="99.04" stroke="#222" stroke-width="0.9"/>
<line x1="297.6" y1="95.77" x2="299.2" y2="95.77" stroke="#222" stroke-width="0.9"/>
<line x1="295.9" y1="92.5" x2="299.2" y2="92.5" stroke="#222" stroke-width="0.9"/>
<text x="293.6" y="94.8" text-anchor="end" class="tk">200</text>
<line x1="297.6" y1="89.23" x2="299.2" y2="89.23" stroke="#222" stroke-width="0.9"/>
<line x1="297.6" y1="85.96" x2="299.2" y2="85.96" stroke="#222" stroke-width="0.9"/>
<line x1="297.6" y1="82.69" x2="299.2" y2="82.69" stroke="#222" stroke-width="0.9"/>
<line x1="297.6" y1="79.42" x2="299.2" y2="79.42" stroke="#222" stroke-width="0.9"/>
<line x1="295.9" y1="76.15" x2="299.2" y2="76.15" stroke="#222" stroke-width="0.9"/>
<text x="293.6" y="78.45" text-anchor="end" class="tk">250</text>
<line x1="297.6" y1="72.88" x2="299.2" y2="72.88" stroke="#222" stroke-width="0.9"/>
<line x1="297.6" y1="69.61" x2="299.2" y2="69.61" stroke="#222" stroke-width="0.9"/>
<line x1="297.6" y1="66.34" x2="299.2" y2="66.34" stroke="#222" stroke-width="0.9"/>
<line x1="297.6" y1="63.07" x2="299.2" y2="63.07" stroke="#222" stroke-width="0.9"/>
<line x1="295.9" y1="59.8" x2="299.2" y2="59.8" stroke="#222" stroke-width="0.9"/>
<text x="293.6" y="62.1" text-anchor="end" class="tk">300</text>
<line x1="297.6" y1="56.53" x2="299.2" y2="56.53" stroke="#222" stroke-width="0.9"/>
<line x1="297.6" y1="53.26" x2="299.2" y2="53.26" stroke="#222" stroke-width="0.9"/>
<line x1="297.6" y1="49.99" x2="299.2" y2="49.99" stroke="#222" stroke-width="0.9"/>
<line x1="297.6" y1="46.72" x2="299.2" y2="46.72" stroke="#222" stroke-width="0.9"/>
<line x1="295.9" y1="43.45" x2="299.2" y2="43.45" stroke="#222" stroke-width="0.9"/>
<text x="293.6" y="45.75" text-anchor="end" class="tk">350</text>
<line x1="297.6" y1="40.18" x2="299.2" y2="40.18" stroke="#222" stroke-width="0.9"/>
<line x1="297.6" y1="36.91" x2="299.2" y2="36.91" stroke="#222" stroke-width="0.9"/>
<line x1="297.6" y1="33.64" x2="299.2" y2="33.64" stroke="#222" stroke-width="0.9"/>
<line x1="297.6" y1="30.37" x2="299.2" y2="30.37" stroke="#222" stroke-width="0.9"/>
<line x1="295.9" y1="27.1" x2="299.2" y2="27.1" stroke="#222" stroke-width="0.9"/>
<text x="293.6" y="29.4" text-anchor="end" class="tk">400</text>
<line x1="481.2" y1="157.9" x2="484.5" y2="157.9" stroke="#222" stroke-width="0.9"/>
<text x="487.5" y="160.2" class="tk">0</text>
<line x1="481.2" y1="152.67" x2="482.8" y2="152.67" stroke="#222" stroke-width="0.9"/>
<line x1="481.2" y1="147.44" x2="482.8" y2="147.44" stroke="#222" stroke-width="0.9"/>
<line x1="481.2" y1="142.2" x2="482.8" y2="142.2" stroke="#222" stroke-width="0.9"/>
<line x1="481.2" y1="136.97" x2="482.8" y2="136.97" stroke="#222" stroke-width="0.9"/>
<line x1="481.2" y1="131.74" x2="484.5" y2="131.74" stroke="#222" stroke-width="0.9"/>
<text x="487.5" y="134.04" class="tk">200</text>
<line x1="481.2" y1="126.51" x2="482.8" y2="126.51" stroke="#222" stroke-width="0.9"/>
<line x1="481.2" y1="121.28" x2="482.8" y2="121.28" stroke="#222" stroke-width="0.9"/>
<line x1="481.2" y1="116.04" x2="482.8" y2="116.04" stroke="#222" stroke-width="0.9"/>
<line x1="481.2" y1="110.81" x2="482.8" y2="110.81" stroke="#222" stroke-width="0.9"/>
<line x1="481.2" y1="105.58" x2="484.5" y2="105.58" stroke="#222" stroke-width="0.9"/>
<text x="487.5" y="107.88" class="tk">400</text>
<line x1="481.2" y1="100.35" x2="482.8" y2="100.35" stroke="#222" stroke-width="0.9"/>
<line x1="481.2" y1="95.12" x2="482.8" y2="95.12" stroke="#222" stroke-width="0.9"/>
<line x1="481.2" y1="89.88" x2="482.8" y2="89.88" stroke="#222" stroke-width="0.9"/>
<line x1="481.2" y1="84.65" x2="482.8" y2="84.65" stroke="#222" stroke-width="0.9"/>
<line x1="481.2" y1="79.42" x2="484.5" y2="79.42" stroke="#222" stroke-width="0.9"/>
<text x="487.5" y="81.72" class="tk">600</text>
<line x1="481.2" y1="74.19" x2="482.8" y2="74.19" stroke="#222" stroke-width="0.9"/>
<line x1="481.2" y1="68.96" x2="482.8" y2="68.96" stroke="#222" stroke-width="0.9"/>
<line x1="481.2" y1="63.72" x2="482.8" y2="63.72" stroke="#222" stroke-width="0.9"/>
<line x1="481.2" y1="58.49" x2="482.8" y2="58.49" stroke="#222" stroke-width="0.9"/>
<line x1="481.2" y1="53.26" x2="484.5" y2="53.26" stroke="#222" stroke-width="0.9"/>
<text x="487.5" y="55.56" class="tk">800</text>
<line x1="481.2" y1="48.03" x2="482.8" y2="48.03" stroke="#222" stroke-width="0.9"/>
<line x1="481.2" y1="42.8" x2="482.8" y2="42.8" stroke="#222" stroke-width="0.9"/>
<line x1="481.2" y1="37.56" x2="482.8" y2="37.56" stroke="#222" stroke-width="0.9"/>
<line x1="481.2" y1="32.33" x2="482.8" y2="32.33" stroke="#222" stroke-width="0.9"/>
<line x1="481.2" y1="27.1" x2="484.5" y2="27.1" stroke="#222" stroke-width="0.9"/>
<text x="487.5" y="29.4" class="tk">1000</text>
<line x1="299.2" y1="157.9" x2="299.2" y2="161.2" stroke="#222" stroke-width="0.9"/>
<text x="299.2" y="169.1" text-anchor="middle" class="tk">0</text>
<line x1="308.3" y1="157.9" x2="308.3" y2="159.5" stroke="#222" stroke-width="0.9"/>
<line x1="317.4" y1="157.9" x2="317.4" y2="159.5" stroke="#222" stroke-width="0.9"/>
<line x1="326.5" y1="157.9" x2="326.5" y2="159.5" stroke="#222" stroke-width="0.9"/>
<line x1="335.6" y1="157.9" x2="335.6" y2="159.5" stroke="#222" stroke-width="0.9"/>
<line x1="344.7" y1="157.9" x2="344.7" y2="161.2" stroke="#222" stroke-width="0.9"/>
<text x="344.7" y="169.1" text-anchor="middle" class="tk">5</text>
<line x1="353.8" y1="157.9" x2="353.8" y2="159.5" stroke="#222" stroke-width="0.9"/>
<line x1="362.9" y1="157.9" x2="362.9" y2="159.5" stroke="#222" stroke-width="0.9"/>
<line x1="372" y1="157.9" x2="372" y2="159.5" stroke="#222" stroke-width="0.9"/>
<line x1="381.1" y1="157.9" x2="381.1" y2="159.5" stroke="#222" stroke-width="0.9"/>
<line x1="390.2" y1="157.9" x2="390.2" y2="161.2" stroke="#222" stroke-width="0.9"/>
<text x="390.2" y="169.1" text-anchor="middle" class="tk">10</text>
<line x1="399.3" y1="157.9" x2="399.3" y2="159.5" stroke="#222" stroke-width="0.9"/>
<line x1="408.4" y1="157.9" x2="408.4" y2="159.5" stroke="#222" stroke-width="0.9"/>
<line x1="417.5" y1="157.9" x2="417.5" y2="159.5" stroke="#222" stroke-width="0.9"/>
<line x1="426.6" y1="157.9" x2="426.6" y2="159.5" stroke="#222" stroke-width="0.9"/>
<line x1="435.7" y1="157.9" x2="435.7" y2="161.2" stroke="#222" stroke-width="0.9"/>
<text x="435.7" y="169.1" text-anchor="middle" class="tk">15</text>
<line x1="444.8" y1="157.9" x2="444.8" y2="159.5" stroke="#222" stroke-width="0.9"/>
<line x1="453.9" y1="157.9" x2="453.9" y2="159.5" stroke="#222" stroke-width="0.9"/>
<line x1="463" y1="157.9" x2="463" y2="159.5" stroke="#222" stroke-width="0.9"/>
<line x1="472.1" y1="157.9" x2="472.1" y2="159.5" stroke="#222" stroke-width="0.9"/>
<line x1="481.2" y1="157.9" x2="481.2" y2="161.2" stroke="#222" stroke-width="0.9"/>
<text x="481.2" y="169.1" text-anchor="middle" class="tk">20</text>
<text x="390.2" y="180.4" text-anchor="middle" class="ttl" textLength="30.6" lengthAdjust="spacingAndGlyphs">Age in years</text>
<text transform="translate(276.8,93.7) rotate(-90)" text-anchor="middle" class="ttl" textLength="54.2" lengthAdjust="spacingAndGlyphs">ALT and AST units/mL</text>
<text transform="translate(507,91.6) rotate(90)" text-anchor="middle" class="ttl" textLength="34" lengthAdjust="spacingAndGlyphs">GGT units/mL</text>
<text x="268.7" y="15.5" class="let">B</text>
<line x1="455.7" y1="28.3" x2="459.3" y2="28.3" stroke="#b8304f" stroke-width="1.3"/>
<line x1="456.2" y1="36.7" x2="459" y2="36.7" stroke="#2d4d6e" stroke-width="1.3"/>
<circle cx="457.5" cy="45.2" r="1.1" fill="#26773a"/>
<text x="463.5" y="30.6" class="leg" textLength="9.2" lengthAdjust="spacingAndGlyphs">ALT</text>
<text x="463.5" y="39" class="leg" textLength="10.6" lengthAdjust="spacingAndGlyphs">AST</text>
<text x="463.5" y="47.5" class="leg" textLength="12.6" lengthAdjust="spacingAndGlyphs">GGT</text>
<polyline points="345.5,133 347,136 348.4,145 353.7,134.7 359.6,112.6 362.3,107.8 371.9,94.8 376,92.1 378.4,93 388.9,96.8 397.4,101 401.6,110.5 403.7,119 403.7,86.3 407.9,107.4 408.9,125.3 415.3,107.4 419.5,101 428.4,95.8 435.8,103.2 437.9,111.6 440,114.7 441.1,109.5 445.3,107.4 450.5,112.6 455.8,111.6 462.1,114.7" fill="none" stroke="#b8304f" stroke-width="1.2" stroke-dasharray="3.4,2.2" stroke-linejoin="round"/>
<polyline points="347,134 348.5,131 350.7,133.1 355.5,118 358.9,108.5 360.9,101.7 363.7,96.9 369.1,92.1 372.5,88.7 375.3,90 378,92.8 386.8,102.1 397.4,111.6 401.6,122.1 403.7,139 405,120 408.9,136.8 412.1,136.8 418.4,128.4 426.8,122.1 437.9,117.9 441.1,115.8 451.6,111.6 456.8,109.5 463.2,103.2" fill="none" stroke="#2d4d6e" stroke-width="1.2" stroke-dasharray="3.5,2,1,2.2" stroke-linejoin="round"/>
<text x="324.1" y="93.8" class="hs" textLength="16.2" lengthAdjust="spacingAndGlyphs">HSCT</text>
<line x1="342.1" y1="96.3" x2="345.4" y2="107.8" stroke="#a82a48" stroke-width="1"/>
<polygon points="345.4,107.8 343.08,105.14 345.96,104.31" fill="#a82a48"/>
<line x1="38" y1="215.3" x2="38" y2="349.1" stroke="#222" stroke-width="1.1"/>
<line x1="220.5" y1="218.2" x2="220.5" y2="349.1" stroke="#222" stroke-width="1.1"/>
<line x1="37.5" y1="348.6" x2="221" y2="348.6" stroke="#222" stroke-width="1.1"/>
<line x1="34.7" y1="348.6" x2="38" y2="348.6" stroke="#222" stroke-width="0.9"/>
<text x="32.4" y="350.9" text-anchor="end" class="tk">0</text>
<line x1="36.4" y1="345.34" x2="38" y2="345.34" stroke="#222" stroke-width="0.9"/>
<line x1="36.4" y1="342.09" x2="38" y2="342.09" stroke="#222" stroke-width="0.9"/>
<line x1="36.4" y1="338.83" x2="38" y2="338.83" stroke="#222" stroke-width="0.9"/>
<line x1="36.4" y1="335.57" x2="38" y2="335.57" stroke="#222" stroke-width="0.9"/>
<line x1="34.7" y1="332.31" x2="38" y2="332.31" stroke="#222" stroke-width="0.9"/>
<text x="32.4" y="334.61" text-anchor="end" class="tk">50</text>
<line x1="36.4" y1="329.06" x2="38" y2="329.06" stroke="#222" stroke-width="0.9"/>
<line x1="36.4" y1="325.8" x2="38" y2="325.8" stroke="#222" stroke-width="0.9"/>
<line x1="36.4" y1="322.54" x2="38" y2="322.54" stroke="#222" stroke-width="0.9"/>
<line x1="36.4" y1="319.28" x2="38" y2="319.28" stroke="#222" stroke-width="0.9"/>
<line x1="34.7" y1="316.03" x2="38" y2="316.03" stroke="#222" stroke-width="0.9"/>
<text x="32.4" y="318.33" text-anchor="end" class="tk">100</text>
<line x1="36.4" y1="312.77" x2="38" y2="312.77" stroke="#222" stroke-width="0.9"/>
<line x1="36.4" y1="309.51" x2="38" y2="309.51" stroke="#222" stroke-width="0.9"/>
<line x1="36.4" y1="306.25" x2="38" y2="306.25" stroke="#222" stroke-width="0.9"/>
<line x1="36.4" y1="303" x2="38" y2="303" stroke="#222" stroke-width="0.9"/>
<line x1="34.7" y1="299.74" x2="38" y2="299.74" stroke="#222" stroke-width="0.9"/>
<text x="32.4" y="302.04" text-anchor="end" class="tk">150</text>
<line x1="36.4" y1="296.48" x2="38" y2="296.48" stroke="#222" stroke-width="0.9"/>
<line x1="36.4" y1="293.22" x2="38" y2="293.22" stroke="#222" stroke-width="0.9"/>
<line x1="36.4" y1="289.97" x2="38" y2="289.97" stroke="#222" stroke-width="0.9"/>
<line x1="36.4" y1="286.71" x2="38" y2="286.71" stroke="#222" stroke-width="0.9"/>
<line x1="34.7" y1="283.45" x2="38" y2="283.45" stroke="#222" stroke-width="0.9"/>
<text x="32.4" y="285.75" text-anchor="end" class="tk">200</text>
<line x1="36.4" y1="280.19" x2="38" y2="280.19" stroke="#222" stroke-width="0.9"/>
<line x1="36.4" y1="276.94" x2="38" y2="276.94" stroke="#222" stroke-width="0.9"/>
<line x1="36.4" y1="273.68" x2="38" y2="273.68" stroke="#222" stroke-width="0.9"/>
<line x1="36.4" y1="270.42" x2="38" y2="270.42" stroke="#222" stroke-width="0.9"/>
<line x1="34.7" y1="267.16" x2="38" y2="267.16" stroke="#222" stroke-width="0.9"/>
<text x="32.4" y="269.46" text-anchor="end" class="tk">250</text>
<line x1="36.4" y1="263.91" x2="38" y2="263.91" stroke="#222" stroke-width="0.9"/>
<line x1="36.4" y1="260.65" x2="38" y2="260.65" stroke="#222" stroke-width="0.9"/>
<line x1="36.4" y1="257.39" x2="38" y2="257.39" stroke="#222" stroke-width="0.9"/>
<line x1="36.4" y1="254.13" x2="38" y2="254.13" stroke="#222" stroke-width="0.9"/>
<line x1="34.7" y1="250.88" x2="38" y2="250.88" stroke="#222" stroke-width="0.9"/>
<text x="32.4" y="253.18" text-anchor="end" class="tk">300</text>
<line x1="36.4" y1="247.62" x2="38" y2="247.62" stroke="#222" stroke-width="0.9"/>
<line x1="36.4" y1="244.36" x2="38" y2="244.36" stroke="#222" stroke-width="0.9"/>
<line x1="36.4" y1="241.1" x2="38" y2="241.1" stroke="#222" stroke-width="0.9"/>
<line x1="36.4" y1="237.84" x2="38" y2="237.84" stroke="#222" stroke-width="0.9"/>
<line x1="34.7" y1="234.59" x2="38" y2="234.59" stroke="#222" stroke-width="0.9"/>
<text x="32.4" y="236.89" text-anchor="end" class="tk">350</text>
<line x1="36.4" y1="231.33" x2="38" y2="231.33" stroke="#222" stroke-width="0.9"/>
<line x1="36.4" y1="228.07" x2="38" y2="228.07" stroke="#222" stroke-width="0.9"/>
<line x1="36.4" y1="224.81" x2="38" y2="224.81" stroke="#222" stroke-width="0.9"/>
<line x1="36.4" y1="221.56" x2="38" y2="221.56" stroke="#222" stroke-width="0.9"/>
<line x1="34.7" y1="218.3" x2="38" y2="218.3" stroke="#222" stroke-width="0.9"/>
<text x="32.4" y="220.6" text-anchor="end" class="tk">400</text>
<line x1="220.5" y1="348.6" x2="223.8" y2="348.6" stroke="#222" stroke-width="0.9"/>
<text x="226.8" y="350.9" class="tk">0</text>
<line x1="220.5" y1="345.42" x2="222.1" y2="345.42" stroke="#222" stroke-width="0.9"/>
<line x1="220.5" y1="342.23" x2="222.1" y2="342.23" stroke="#222" stroke-width="0.9"/>
<line x1="220.5" y1="339.05" x2="222.1" y2="339.05" stroke="#222" stroke-width="0.9"/>
<line x1="220.5" y1="335.86" x2="222.1" y2="335.86" stroke="#222" stroke-width="0.9"/>
<line x1="220.5" y1="332.68" x2="223.8" y2="332.68" stroke="#222" stroke-width="0.9"/>
<text x="226.8" y="334.98" class="tk">50</text>
<line x1="220.5" y1="329.49" x2="222.1" y2="329.49" stroke="#222" stroke-width="0.9"/>
<line x1="220.5" y1="326.31" x2="222.1" y2="326.31" stroke="#222" stroke-width="0.9"/>
<line x1="220.5" y1="323.12" x2="222.1" y2="323.12" stroke="#222" stroke-width="0.9"/>
<line x1="220.5" y1="319.94" x2="222.1" y2="319.94" stroke="#222" stroke-width="0.9"/>
<line x1="220.5" y1="316.75" x2="223.8" y2="316.75" stroke="#222" stroke-width="0.9"/>
<text x="226.8" y="319.05" class="tk">100</text>
<line x1="220.5" y1="313.56" x2="222.1" y2="313.56" stroke="#222" stroke-width="0.9"/>
<line x1="220.5" y1="310.38" x2="222.1" y2="310.38" stroke="#222" stroke-width="0.9"/>
<line x1="220.5" y1="307.19" x2="222.1" y2="307.19" stroke="#222" stroke-width="0.9"/>
<line x1="220.5" y1="304.01" x2="222.1" y2="304.01" stroke="#222" stroke-width="0.9"/>
<line x1="220.5" y1="300.83" x2="223.8" y2="300.83" stroke="#222" stroke-width="0.9"/>
<text x="226.8" y="303.13" class="tk">150</text>
<line x1="220.5" y1="297.64" x2="222.1" y2="297.64" stroke="#222" stroke-width="0.9"/>
<line x1="220.5" y1="294.45" x2="222.1" y2="294.45" stroke="#222" stroke-width="0.9"/>
<line x1="220.5" y1="291.27" x2="222.1" y2="291.27" stroke="#222" stroke-width="0.9"/>
<line x1="220.5" y1="288.09" x2="222.1" y2="288.09" stroke="#222" stroke-width="0.9"/>
<line x1="220.5" y1="284.9" x2="223.8" y2="284.9" stroke="#222" stroke-width="0.9"/>
<text x="226.8" y="287.2" class="tk">200</text>
<line x1="220.5" y1="281.72" x2="222.1" y2="281.72" stroke="#222" stroke-width="0.9"/>
<line x1="220.5" y1="278.53" x2="222.1" y2="278.53" stroke="#222" stroke-width="0.9"/>
<line x1="220.5" y1="275.35" x2="222.1" y2="275.35" stroke="#222" stroke-width="0.9"/>
<line x1="220.5" y1="272.16" x2="222.1" y2="272.16" stroke="#222" stroke-width="0.9"/>
<line x1="220.5" y1="268.98" x2="223.8" y2="268.98" stroke="#222" stroke-width="0.9"/>
<text x="226.8" y="271.28" class="tk">250</text>
<line x1="220.5" y1="265.79" x2="222.1" y2="265.79" stroke="#222" stroke-width="0.9"/>
<line x1="220.5" y1="262.61" x2="222.1" y2="262.61" stroke="#222" stroke-width="0.9"/>
<line x1="220.5" y1="259.42" x2="222.1" y2="259.42" stroke="#222" stroke-width="0.9"/>
<line x1="220.5" y1="256.24" x2="222.1" y2="256.24" stroke="#222" stroke-width="0.9"/>
<line x1="220.5" y1="253.05" x2="223.8" y2="253.05" stroke="#222" stroke-width="0.9"/>
<text x="226.8" y="255.35" class="tk">300</text>
<line x1="220.5" y1="249.87" x2="222.1" y2="249.87" stroke="#222" stroke-width="0.9"/>
<line x1="220.5" y1="246.68" x2="222.1" y2="246.68" stroke="#222" stroke-width="0.9"/>
<line x1="220.5" y1="243.5" x2="222.1" y2="243.5" stroke="#222" stroke-width="0.9"/>
<line x1="220.5" y1="240.31" x2="222.1" y2="240.31" stroke="#222" stroke-width="0.9"/>
<line x1="220.5" y1="237.12" x2="223.8" y2="237.12" stroke="#222" stroke-width="0.9"/>
<text x="226.8" y="239.43" class="tk">350</text>
<line x1="220.5" y1="233.94" x2="222.1" y2="233.94" stroke="#222" stroke-width="0.9"/>
<line x1="220.5" y1="230.75" x2="222.1" y2="230.75" stroke="#222" stroke-width="0.9"/>
<line x1="220.5" y1="227.57" x2="222.1" y2="227.57" stroke="#222" stroke-width="0.9"/>
<line x1="220.5" y1="224.38" x2="222.1" y2="224.38" stroke="#222" stroke-width="0.9"/>
<line x1="220.5" y1="221.2" x2="223.8" y2="221.2" stroke="#222" stroke-width="0.9"/>
<text x="226.8" y="223.5" class="tk">400</text>
<line x1="38" y1="348.6" x2="38" y2="351.9" stroke="#222" stroke-width="0.9"/>
<text x="38" y="359.8" text-anchor="middle" class="tk">0</text>
<line x1="43.21" y1="348.6" x2="43.21" y2="350.2" stroke="#222" stroke-width="0.9"/>
<line x1="48.43" y1="348.6" x2="48.43" y2="350.2" stroke="#222" stroke-width="0.9"/>
<line x1="53.64" y1="348.6" x2="53.64" y2="350.2" stroke="#222" stroke-width="0.9"/>
<line x1="58.86" y1="348.6" x2="58.86" y2="350.2" stroke="#222" stroke-width="0.9"/>
<line x1="64.07" y1="348.6" x2="64.07" y2="351.9" stroke="#222" stroke-width="0.9"/>
<text x="64.07" y="359.8" text-anchor="middle" class="tk">1</text>
<line x1="69.29" y1="348.6" x2="69.29" y2="350.2" stroke="#222" stroke-width="0.9"/>
<line x1="74.5" y1="348.6" x2="74.5" y2="350.2" stroke="#222" stroke-width="0.9"/>
<line x1="79.71" y1="348.6" x2="79.71" y2="350.2" stroke="#222" stroke-width="0.9"/>
<line x1="84.93" y1="348.6" x2="84.93" y2="350.2" stroke="#222" stroke-width="0.9"/>
<line x1="90.14" y1="348.6" x2="90.14" y2="351.9" stroke="#222" stroke-width="0.9"/>
<text x="90.14" y="359.8" text-anchor="middle" class="tk">2</text>
<line x1="95.36" y1="348.6" x2="95.36" y2="350.2" stroke="#222" stroke-width="0.9"/>
<line x1="100.57" y1="348.6" x2="100.57" y2="350.2" stroke="#222" stroke-width="0.9"/>
<line x1="105.79" y1="348.6" x2="105.79" y2="350.2" stroke="#222" stroke-width="0.9"/>
<line x1="111" y1="348.6" x2="111" y2="350.2" stroke="#222" stroke-width="0.9"/>
<line x1="116.21" y1="348.6" x2="116.21" y2="351.9" stroke="#222" stroke-width="0.9"/>
<text x="116.21" y="359.8" text-anchor="middle" class="tk">3</text>
<line x1="121.43" y1="348.6" x2="121.43" y2="350.2" stroke="#222" stroke-width="0.9"/>
<line x1="126.64" y1="348.6" x2="126.64" y2="350.2" stroke="#222" stroke-width="0.9"/>
<line x1="131.86" y1="348.6" x2="131.86" y2="350.2" stroke="#222" stroke-width="0.9"/>
<line x1="137.07" y1="348.6" x2="137.07" y2="350.2" stroke="#222" stroke-width="0.9"/>
<line x1="142.29" y1="348.6" x2="142.29" y2="351.9" stroke="#222" stroke-width="0.9"/>
<text x="142.29" y="359.8" text-anchor="middle" class="tk">4</text>
<line x1="147.5" y1="348.6" x2="147.5" y2="350.2" stroke="#222" stroke-width="0.9"/>
<line x1="152.71" y1="348.6" x2="152.71" y2="350.2" stroke="#222" stroke-width="0.9"/>
<line x1="157.93" y1="348.6" x2="157.93" y2="350.2" stroke="#222" stroke-width="0.9"/>
<line x1="163.14" y1="348.6" x2="163.14" y2="350.2" stroke="#222" stroke-width="0.9"/>
<line x1="168.36" y1="348.6" x2="168.36" y2="351.9" stroke="#222" stroke-width="0.9"/>
<text x="168.36" y="359.8" text-anchor="middle" class="tk">5</text>
<line x1="173.57" y1="348.6" x2="173.57" y2="350.2" stroke="#222" stroke-width="0.9"/>
<line x1="178.79" y1="348.6" x2="178.79" y2="350.2" stroke="#222" stroke-width="0.9"/>
<line x1="184" y1="348.6" x2="184" y2="350.2" stroke="#222" stroke-width="0.9"/>
<line x1="189.21" y1="348.6" x2="189.21" y2="350.2" stroke="#222" stroke-width="0.9"/>
<line x1="194.43" y1="348.6" x2="194.43" y2="351.9" stroke="#222" stroke-width="0.9"/>
<text x="194.43" y="359.8" text-anchor="middle" class="tk">6</text>
<line x1="199.64" y1="348.6" x2="199.64" y2="350.2" stroke="#222" stroke-width="0.9"/>
<line x1="204.86" y1="348.6" x2="204.86" y2="350.2" stroke="#222" stroke-width="0.9"/>
<line x1="210.07" y1="348.6" x2="210.07" y2="350.2" stroke="#222" stroke-width="0.9"/>
<line x1="215.29" y1="348.6" x2="215.29" y2="350.2" stroke="#222" stroke-width="0.9"/>
<line x1="220.5" y1="348.6" x2="220.5" y2="351.9" stroke="#222" stroke-width="0.9"/>
<text x="220.5" y="359.8" text-anchor="middle" class="tk">7</text>
<text x="129.25" y="371.1" text-anchor="middle" class="ttl" textLength="30.6" lengthAdjust="spacingAndGlyphs">Age in years</text>
<text transform="translate(15.6,283.7) rotate(-90)" text-anchor="middle" class="ttl" textLength="54.2" lengthAdjust="spacingAndGlyphs">ALT and AST units/mL</text>
<text transform="translate(242.6,281.8) rotate(90)" text-anchor="middle" class="ttl" textLength="34" lengthAdjust="spacingAndGlyphs">GGT units/mL</text>
<text x="7.2" y="206.8" class="let">C</text>
<line x1="193.4" y1="222.9" x2="197" y2="222.9" stroke="#b8304f" stroke-width="1.3"/>
<line x1="193.9" y1="230.9" x2="196.7" y2="230.9" stroke="#2d4d6e" stroke-width="1.3"/>
<circle cx="195.2" cy="239.3" r="1.1" fill="#26773a"/>
<text x="200.8" y="225.2" class="leg" textLength="9.2" lengthAdjust="spacingAndGlyphs">ALT</text>
<text x="200.8" y="233.2" class="leg" textLength="10.6" lengthAdjust="spacingAndGlyphs">AST</text>
<text x="200.8" y="241.6" class="leg" textLength="12.6" lengthAdjust="spacingAndGlyphs">GGT</text>
<polyline points="38,342 40,337 41.3,338.2 43.9,336.8 46.5,339.5 47.8,334.2 49.2,328.9 51.8,330.3 53.1,325 54.3,316 54.8,300 55.5,272 56.2,244.8 57.9,244.8 57.8,272 57.4,300 58.5,318 60.3,331 61.9,333.4 66.3,332.7 68.7,327.9 71.8,320.8 72.6,316 72.6,330 72.8,320 79,320.8 88.4,319.2 97.9,320.8 105.8,325.5 113.7,332.7 121.6,338.2 127.9,336.6 134.2,330.3 142.4,312.4 147.9,308.7 150.7,311.4 151.2,288.4 158,278.3 158.9,297.6 171.8,312.4 183.8,325.2 192.1,335.8 208.7,335.8" fill="none" stroke="#b8304f" stroke-width="1.2" stroke-dasharray="3.4,2.2" stroke-linejoin="round"/>
<polyline points="39,345 41.5,340 44,343 46,336 48.5,338" fill="none" stroke="#b8304f" stroke-width="1.2" stroke-dasharray="3.4,2.2" stroke-linejoin="round"/>
<polyline points="38.6,335.5 40,333.6 42.6,330.9 43.9,331.6 46,334 48,329 50.5,326 52.5,320 54.4,317.1 55.7,307.9 56.5,300 57.7,331.6 58.4,339.5 61.7,337.5 68.7,335 71.8,324.8 75.8,322.4 85.3,320 94.8,317.6 101.1,316.9 105.8,322.4 113.7,330.3 120.8,331.9 127.9,320.8 133.5,327.9 135.8,321.6 140,315.3 144.2,310.5 149.7,304 151.6,312.4 158.9,323.4 171.8,327.1 188.4,329.3 208.7,330.4" fill="none" stroke="#2d4d6e" stroke-width="1.2" stroke-dasharray="3.5,2,1,2.2" stroke-linejoin="round"/>
<polyline points="56,312 56.8,322 57.5,330" fill="none" stroke="#2d4d6e" stroke-width="1.2" stroke-dasharray="3.5,2,1,2.2" stroke-linejoin="round"/>
<line x1="299.2" y1="219" x2="299.2" y2="349.1" stroke="#222" stroke-width="1.1"/>
<line x1="481.2" y1="219" x2="481.2" y2="349.1" stroke="#222" stroke-width="1.1"/>
<line x1="298.7" y1="348.6" x2="481.7" y2="348.6" stroke="#222" stroke-width="1.1"/>
<line x1="295.9" y1="348.6" x2="299.2" y2="348.6" stroke="#222" stroke-width="0.9"/>
<text x="293.6" y="350.9" text-anchor="end" class="tk">0</text>
<line x1="297.6" y1="345.44" x2="299.2" y2="345.44" stroke="#222" stroke-width="0.9"/>
<line x1="297.6" y1="342.27" x2="299.2" y2="342.27" stroke="#222" stroke-width="0.9"/>
<line x1="297.6" y1="339.11" x2="299.2" y2="339.11" stroke="#222" stroke-width="0.9"/>
<line x1="297.6" y1="335.94" x2="299.2" y2="335.94" stroke="#222" stroke-width="0.9"/>
<line x1="295.9" y1="332.78" x2="299.2" y2="332.78" stroke="#222" stroke-width="0.9"/>
<text x="293.6" y="335.08" text-anchor="end" class="tk">50</text>
<line x1="297.6" y1="329.61" x2="299.2" y2="329.61" stroke="#222" stroke-width="0.9"/>
<line x1="297.6" y1="326.44" x2="299.2" y2="326.44" stroke="#222" stroke-width="0.9"/>
<line x1="297.6" y1="323.28" x2="299.2" y2="323.28" stroke="#222" stroke-width="0.9"/>
<line x1="297.6" y1="320.12" x2="299.2" y2="320.12" stroke="#222" stroke-width="0.9"/>
<line x1="295.9" y1="316.95" x2="299.2" y2="316.95" stroke="#222" stroke-width="0.9"/>
<text x="293.6" y="319.25" text-anchor="end" class="tk">100</text>
<line x1="297.6" y1="313.79" x2="299.2" y2="313.79" stroke="#222" stroke-width="0.9"/>
<line x1="297.6" y1="310.62" x2="299.2" y2="310.62" stroke="#222" stroke-width="0.9"/>
<line x1="297.6" y1="307.46" x2="299.2" y2="307.46" stroke="#222" stroke-width="0.9"/>
<line x1="297.6" y1="304.29" x2="299.2" y2="304.29" stroke="#222" stroke-width="0.9"/>
<line x1="295.9" y1="301.12" x2="299.2" y2="301.12" stroke="#222" stroke-width="0.9"/>
<text x="293.6" y="303.43" text-anchor="end" class="tk">150</text>
<line x1="297.6" y1="297.96" x2="299.2" y2="297.96" stroke="#222" stroke-width="0.9"/>
<line x1="297.6" y1="294.8" x2="299.2" y2="294.8" stroke="#222" stroke-width="0.9"/>
<line x1="297.6" y1="291.63" x2="299.2" y2="291.63" stroke="#222" stroke-width="0.9"/>
<line x1="297.6" y1="288.47" x2="299.2" y2="288.47" stroke="#222" stroke-width="0.9"/>
<line x1="295.9" y1="285.3" x2="299.2" y2="285.3" stroke="#222" stroke-width="0.9"/>
<text x="293.6" y="287.6" text-anchor="end" class="tk">200</text>
<line x1="297.6" y1="282.13" x2="299.2" y2="282.13" stroke="#222" stroke-width="0.9"/>
<line x1="297.6" y1="278.97" x2="299.2" y2="278.97" stroke="#222" stroke-width="0.9"/>
<line x1="297.6" y1="275.81" x2="299.2" y2="275.81" stroke="#222" stroke-width="0.9"/>
<line x1="297.6" y1="272.64" x2="299.2" y2="272.64" stroke="#222" stroke-width="0.9"/>
<line x1="295.9" y1="269.48" x2="299.2" y2="269.48" stroke="#222" stroke-width="0.9"/>
<text x="293.6" y="271.78" text-anchor="end" class="tk">250</text>
<line x1="297.6" y1="266.31" x2="299.2" y2="266.31" stroke="#222" stroke-width="0.9"/>
<line x1="297.6" y1="263.14" x2="299.2" y2="263.14" stroke="#222" stroke-width="0.9"/>
<line x1="297.6" y1="259.98" x2="299.2" y2="259.98" stroke="#222" stroke-width="0.9"/>
<line x1="297.6" y1="256.81" x2="299.2" y2="256.81" stroke="#222" stroke-width="0.9"/>
<line x1="295.9" y1="253.65" x2="299.2" y2="253.65" stroke="#222" stroke-width="0.9"/>
<text x="293.6" y="255.95" text-anchor="end" class="tk">300</text>
<line x1="297.6" y1="250.49" x2="299.2" y2="250.49" stroke="#222" stroke-width="0.9"/>
<line x1="297.6" y1="247.32" x2="299.2" y2="247.32" stroke="#222" stroke-width="0.9"/>
<line x1="297.6" y1="244.16" x2="299.2" y2="244.16" stroke="#222" stroke-width="0.9"/>
<line x1="297.6" y1="240.99" x2="299.2" y2="240.99" stroke="#222" stroke-width="0.9"/>
<line x1="295.9" y1="237.82" x2="299.2" y2="237.82" stroke="#222" stroke-width="0.9"/>
<text x="293.6" y="240.12" text-anchor="end" class="tk">350</text>
<line x1="297.6" y1="234.66" x2="299.2" y2="234.66" stroke="#222" stroke-width="0.9"/>
<line x1="297.6" y1="231.5" x2="299.2" y2="231.5" stroke="#222" stroke-width="0.9"/>
<line x1="297.6" y1="228.33" x2="299.2" y2="228.33" stroke="#222" stroke-width="0.9"/>
<line x1="297.6" y1="225.17" x2="299.2" y2="225.17" stroke="#222" stroke-width="0.9"/>
<line x1="295.9" y1="222" x2="299.2" y2="222" stroke="#222" stroke-width="0.9"/>
<text x="293.6" y="224.3" text-anchor="end" class="tk">400</text>
<line x1="481.2" y1="348.6" x2="484.5" y2="348.6" stroke="#222" stroke-width="0.9"/>
<text x="487.5" y="350.9" class="tk">0</text>
<line x1="481.2" y1="345.44" x2="482.8" y2="345.44" stroke="#222" stroke-width="0.9"/>
<line x1="481.2" y1="342.27" x2="482.8" y2="342.27" stroke="#222" stroke-width="0.9"/>
<line x1="481.2" y1="339.11" x2="482.8" y2="339.11" stroke="#222" stroke-width="0.9"/>
<line x1="481.2" y1="335.94" x2="482.8" y2="335.94" stroke="#222" stroke-width="0.9"/>
<line x1="481.2" y1="332.78" x2="484.5" y2="332.78" stroke="#222" stroke-width="0.9"/>
<text x="487.5" y="335.08" class="tk">50</text>
<line x1="481.2" y1="329.61" x2="482.8" y2="329.61" stroke="#222" stroke-width="0.9"/>
<line x1="481.2" y1="326.44" x2="482.8" y2="326.44" stroke="#222" stroke-width="0.9"/>
<line x1="481.2" y1="323.28" x2="482.8" y2="323.28" stroke="#222" stroke-width="0.9"/>
<line x1="481.2" y1="320.12" x2="482.8" y2="320.12" stroke="#222" stroke-width="0.9"/>
<line x1="481.2" y1="316.95" x2="484.5" y2="316.95" stroke="#222" stroke-width="0.9"/>
<text x="487.5" y="319.25" class="tk">100</text>
<line x1="481.2" y1="313.79" x2="482.8" y2="313.79" stroke="#222" stroke-width="0.9"/>
<line x1="481.2" y1="310.62" x2="482.8" y2="310.62" stroke="#222" stroke-width="0.9"/>
<line x1="481.2" y1="307.46" x2="482.8" y2="307.46" stroke="#222" stroke-width="0.9"/>
<line x1="481.2" y1="304.29" x2="482.8" y2="304.29" stroke="#222" stroke-width="0.9"/>
<line x1="481.2" y1="301.12" x2="484.5" y2="301.12" stroke="#222" stroke-width="0.9"/>
<text x="487.5" y="303.43" class="tk">150</text>
<line x1="481.2" y1="297.96" x2="482.8" y2="297.96" stroke="#222" stroke-width="0.9"/>
<line x1="481.2" y1="294.8" x2="482.8" y2="294.8" stroke="#222" stroke-width="0.9"/>
<line x1="481.2" y1="291.63" x2="482.8" y2="291.63" stroke="#222" stroke-width="0.9"/>
<line x1="481.2" y1="288.47" x2="482.8" y2="288.47" stroke="#222" stroke-width="0.9"/>
<line x1="481.2" y1="285.3" x2="484.5" y2="285.3" stroke="#222" stroke-width="0.9"/>
<text x="487.5" y="287.6" class="tk">200</text>
<line x1="481.2" y1="282.13" x2="482.8" y2="282.13" stroke="#222" stroke-width="0.9"/>
<line x1="481.2" y1="278.97" x2="482.8" y2="278.97" stroke="#222" stroke-width="0.9"/>
<line x1="481.2" y1="275.81" x2="482.8" y2="275.81" stroke="#222" stroke-width="0.9"/>
<line x1="481.2" y1="272.64" x2="482.8" y2="272.64" stroke="#222" stroke-width="0.9"/>
<line x1="481.2" y1="269.48" x2="484.5" y2="269.48" stroke="#222" stroke-width="0.9"/>
<text x="487.5" y="271.78" class="tk">250</text>
<line x1="481.2" y1="266.31" x2="482.8" y2="266.31" stroke="#222" stroke-width="0.9"/>
<line x1="481.2" y1="263.14" x2="482.8" y2="263.14" stroke="#222" stroke-width="0.9"/>
<line x1="481.2" y1="259.98" x2="482.8" y2="259.98" stroke="#222" stroke-width="0.9"/>
<line x1="481.2" y1="256.81" x2="482.8" y2="256.81" stroke="#222" stroke-width="0.9"/>
<line x1="481.2" y1="253.65" x2="484.5" y2="253.65" stroke="#222" stroke-width="0.9"/>
<text x="487.5" y="255.95" class="tk">300</text>
<line x1="481.2" y1="250.49" x2="482.8" y2="250.49" stroke="#222" stroke-width="0.9"/>
<line x1="481.2" y1="247.32" x2="482.8" y2="247.32" stroke="#222" stroke-width="0.9"/>
<line x1="481.2" y1="244.16" x2="482.8" y2="244.16" stroke="#222" stroke-width="0.9"/>
<line x1="481.2" y1="240.99" x2="482.8" y2="240.99" stroke="#222" stroke-width="0.9"/>
<line x1="481.2" y1="237.82" x2="484.5" y2="237.82" stroke="#222" stroke-width="0.9"/>
<text x="487.5" y="240.12" class="tk">350</text>
<line x1="481.2" y1="234.66" x2="482.8" y2="234.66" stroke="#222" stroke-width="0.9"/>
<line x1="481.2" y1="231.5" x2="482.8" y2="231.5" stroke="#222" stroke-width="0.9"/>
<line x1="481.2" y1="228.33" x2="482.8" y2="228.33" stroke="#222" stroke-width="0.9"/>
<line x1="481.2" y1="225.17" x2="482.8" y2="225.17" stroke="#222" stroke-width="0.9"/>
<line x1="481.2" y1="222" x2="484.5" y2="222" stroke="#222" stroke-width="0.9"/>
<text x="487.5" y="224.3" class="tk">400</text>
<line x1="299.2" y1="348.6" x2="299.2" y2="351.9" stroke="#222" stroke-width="0.9"/>
<text x="299.2" y="359.8" text-anchor="middle" class="tk">10</text>
<line x1="306.48" y1="348.6" x2="306.48" y2="350.2" stroke="#222" stroke-width="0.9"/>
<line x1="313.76" y1="348.6" x2="313.76" y2="350.2" stroke="#222" stroke-width="0.9"/>
<line x1="321.04" y1="348.6" x2="321.04" y2="350.2" stroke="#222" stroke-width="0.9"/>
<line x1="328.32" y1="348.6" x2="328.32" y2="350.2" stroke="#222" stroke-width="0.9"/>
<line x1="335.6" y1="348.6" x2="335.6" y2="351.9" stroke="#222" stroke-width="0.9"/>
<text x="335.6" y="359.8" text-anchor="middle" class="tk">15</text>
<line x1="342.88" y1="348.6" x2="342.88" y2="350.2" stroke="#222" stroke-width="0.9"/>
<line x1="350.16" y1="348.6" x2="350.16" y2="350.2" stroke="#222" stroke-width="0.9"/>
<line x1="357.44" y1="348.6" x2="357.44" y2="350.2" stroke="#222" stroke-width="0.9"/>
<line x1="364.72" y1="348.6" x2="364.72" y2="350.2" stroke="#222" stroke-width="0.9"/>
<line x1="372" y1="348.6" x2="372" y2="351.9" stroke="#222" stroke-width="0.9"/>
<text x="372" y="359.8" text-anchor="middle" class="tk">20</text>
<line x1="379.28" y1="348.6" x2="379.28" y2="350.2" stroke="#222" stroke-width="0.9"/>
<line x1="386.56" y1="348.6" x2="386.56" y2="350.2" stroke="#222" stroke-width="0.9"/>
<line x1="393.84" y1="348.6" x2="393.84" y2="350.2" stroke="#222" stroke-width="0.9"/>
<line x1="401.12" y1="348.6" x2="401.12" y2="350.2" stroke="#222" stroke-width="0.9"/>
<line x1="408.4" y1="348.6" x2="408.4" y2="351.9" stroke="#222" stroke-width="0.9"/>
<text x="408.4" y="359.8" text-anchor="middle" class="tk">25</text>
<line x1="415.68" y1="348.6" x2="415.68" y2="350.2" stroke="#222" stroke-width="0.9"/>
<line x1="422.96" y1="348.6" x2="422.96" y2="350.2" stroke="#222" stroke-width="0.9"/>
<line x1="430.24" y1="348.6" x2="430.24" y2="350.2" stroke="#222" stroke-width="0.9"/>
<line x1="437.52" y1="348.6" x2="437.52" y2="350.2" stroke="#222" stroke-width="0.9"/>
<line x1="444.8" y1="348.6" x2="444.8" y2="351.9" stroke="#222" stroke-width="0.9"/>
<text x="444.8" y="359.8" text-anchor="middle" class="tk">30</text>
<line x1="452.08" y1="348.6" x2="452.08" y2="350.2" stroke="#222" stroke-width="0.9"/>
<line x1="459.36" y1="348.6" x2="459.36" y2="350.2" stroke="#222" stroke-width="0.9"/>
<line x1="466.64" y1="348.6" x2="466.64" y2="350.2" stroke="#222" stroke-width="0.9"/>
<line x1="473.92" y1="348.6" x2="473.92" y2="350.2" stroke="#222" stroke-width="0.9"/>
<line x1="481.2" y1="348.6" x2="481.2" y2="351.9" stroke="#222" stroke-width="0.9"/>
<text x="481.2" y="359.8" text-anchor="middle" class="tk">35</text>
<text x="390.2" y="371.1" text-anchor="middle" class="ttl" textLength="30.6" lengthAdjust="spacingAndGlyphs">Age in years</text>
<text transform="translate(276.8,285) rotate(-90)" text-anchor="middle" class="ttl" textLength="54.2" lengthAdjust="spacingAndGlyphs">ALT and AST units/mL</text>
<text transform="translate(503.4,283.6) rotate(90)" text-anchor="middle" class="ttl" textLength="29.8" lengthAdjust="spacingAndGlyphs">GGT units/L</text>
<text x="268.2" y="206.6" class="let">D</text>
<line x1="460.2" y1="222.9" x2="463.8" y2="222.9" stroke="#b8304f" stroke-width="1.3"/>
<line x1="460.7" y1="230.8" x2="463.5" y2="230.8" stroke="#2d4d6e" stroke-width="1.3"/>
<circle cx="462" cy="239.1" r="1.1" fill="#26773a"/>
<text x="467.4" y="225.2" class="leg" textLength="9.2" lengthAdjust="spacingAndGlyphs">ALT</text>
<text x="467.4" y="233.1" class="leg" textLength="10.6" lengthAdjust="spacingAndGlyphs">AST</text>
<text x="467.4" y="241.4" class="leg" textLength="12.6" lengthAdjust="spacingAndGlyphs">GGT</text>
<polyline points="330,312 331,316 332.2,323.3 333.7,327 335.9,329.1 338,332.8 339.5,336.4 341,333.5 342.4,328.4 343.8,324.8 346.7,317.5 349.6,311.7 351.1,304.5 351.5,295.8 351.8,262 353,290 353.4,297.1 355.1,309.1 356.8,314.2 359.4,315 361.1,317.6 362.8,320.2 363.7,313.3 365.4,307.4 367.1,304.8 368.8,300.5 370.5,297.4 371.8,292.1 373.2,293.4 375.1,288.2 376.4,282.2 377.8,289.5 379.1,287.5 379.7,290.8 380.4,288.2 381.1,276 382.4,221.2 382.7,221.2 383.2,261 385,274 387.1,289.3 388.8,298 389.5,304.7 391.4,298 393.2,289.1 394.8,280.1 395.9,286.8 397,282.4 398.6,265.6 399.7,284.6 400.4,307 401.5,314.8 403.7,309.2 405,304.7 406.7,309.9 408.4,303.9 410.1,311.6 411.8,307.4 413.5,314.2 415.3,309.1 417,313.3 418.7,307.4 420.4,300.5 421.9,293.3 422.5,302.2 422.9,315.9 423.8,305.6 424.7,321 425.5,327.9 427.9,330.6 430.8,333.5 433,332 435.1,324.8 436.6,317.5 437.8,323.3 438.8,319 440.2,326.2 441.7,316.1 442.4,311.7 443.8,317.5 445.3,314.6 446.4,317.5 446.6,333 447,222" fill="none" stroke="#b8304f" stroke-width="1.2" stroke-dasharray="3.4,2.2" stroke-linejoin="round"/>
<polyline points="373.5,303 375.6,290.3" fill="none" stroke="#b8304f" stroke-width="1.2" stroke-dasharray="3.4,2.2" stroke-linejoin="round"/>
<polyline points="427.8,280 427.8,331" fill="none" stroke="#b8304f" stroke-width="1.3" stroke-dasharray="none" stroke-linejoin="round"/>
<polyline points="331,326 333.7,329.1 335.9,332 338.8,334.2 340.2,337.8 341.7,333.5 345.3,332 348.2,331.3 350.4,327.7 351.8,323.3 354,321.2 356,326.2 359.4,329.6 362.8,332.1 365.4,329.6 367.1,333.8 369.7,331.3 372.2,327.9 374.8,331.3 377.4,327.9 379.9,324.4 381.6,314.2 382.5,305.6 384.3,318.2 386.9,329.4 388.7,336.1 390.3,322.6 392.5,324.9 394.1,320.4 395.9,324.9 398.1,319.3 399.3,313.7 400.4,336.1 402.6,327.1 406,329.4 407.6,328.7 410.1,331.3 412.7,333 415.3,329.6 418.7,327.9 421.2,325.3 422.9,323.6 424.7,329.6 425.5,338.1 427.2,331.3 428.9,336.4 431.5,334.7 433,339.3 435.9,337.8 438,336.4 440.2,334.9 442.4,332.8 444.6,331.3 446.7,329.1" fill="none" stroke="#2d4d6e" stroke-width="1.2" stroke-dasharray="3.5,2,1,2.2" stroke-linejoin="round"/>
<rect x="0.5" y="0.5" width="519" height="379" fill="none" stroke="#444" stroke-width="1"/>
</svg>
</body></html>
